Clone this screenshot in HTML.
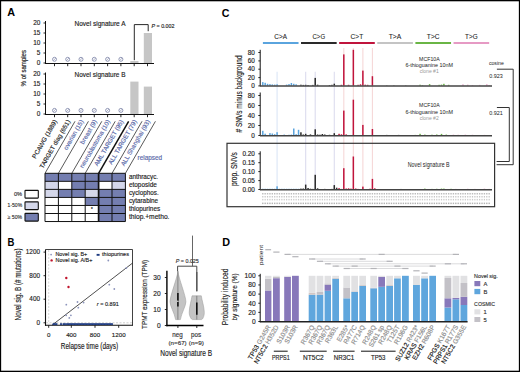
<!DOCTYPE html>
<html><head><meta charset="utf-8"><style>
html,body{margin:0;padding:0;background:#fff;}
svg{display:block;}
text{font-family:"Liberation Sans", sans-serif;}
</style></head><body>
<svg width="520" height="372" viewBox="0 0 520 372">
<rect x="0" y="0" width="520" height="372" fill="#000"/>
<rect x="1.15" y="1.3" width="517.7" height="369.4" fill="#fff"/>
<text x="7.2" y="16.2" font-size="10.8" fill="#000" text-anchor="start" font-weight="bold">A</text>
<line x1="45.5" y1="21" x2="45.5" y2="63.5" stroke="#111" stroke-width="1" />
<line x1="45" y1="63.5" x2="154" y2="63.5" stroke="#111" stroke-width="1" />
<line x1="43.5" y1="63.0" x2="45.5" y2="63.0" stroke="#111" stroke-width="0.9" />
<text x="40.3" y="65.2" font-size="6.4" fill="#222" text-anchor="end" stroke="#222" stroke-width="0.15">0</text>
<line x1="43.5" y1="53.0" x2="45.5" y2="53.0" stroke="#111" stroke-width="0.9" />
<text x="40.3" y="55.2" font-size="6.4" fill="#222" text-anchor="end" stroke="#222" stroke-width="0.15">5</text>
<line x1="43.5" y1="43.0" x2="45.5" y2="43.0" stroke="#111" stroke-width="0.9" />
<text x="40.3" y="45.2" font-size="6.4" fill="#222" text-anchor="end" stroke="#222" stroke-width="0.15">10</text>
<line x1="43.5" y1="33.0" x2="45.5" y2="33.0" stroke="#111" stroke-width="0.9" />
<text x="40.3" y="35.2" font-size="6.4" fill="#222" text-anchor="end" stroke="#222" stroke-width="0.15">15</text>
<line x1="43.5" y1="23.0" x2="45.5" y2="23.0" stroke="#111" stroke-width="0.9" />
<text x="40.3" y="25.2" font-size="6.4" fill="#222" text-anchor="end" stroke="#222" stroke-width="0.15">20</text>
<line x1="54.5" y1="63.5" x2="54.5" y2="66.2" stroke="#111" stroke-width="0.9" />
<line x1="67.7" y1="63.5" x2="67.7" y2="66.2" stroke="#111" stroke-width="0.9" />
<line x1="81.0" y1="63.5" x2="81.0" y2="66.2" stroke="#111" stroke-width="0.9" />
<line x1="94.3" y1="63.5" x2="94.3" y2="66.2" stroke="#111" stroke-width="0.9" />
<line x1="107.6" y1="63.5" x2="107.6" y2="66.2" stroke="#111" stroke-width="0.9" />
<line x1="120.9" y1="63.5" x2="120.9" y2="66.2" stroke="#111" stroke-width="0.9" />
<line x1="134.2" y1="63.5" x2="134.2" y2="66.2" stroke="#111" stroke-width="0.9" />
<line x1="147.5" y1="63.5" x2="147.5" y2="66.2" stroke="#111" stroke-width="0.9" />
<circle cx="54.5" cy="59.3" r="2.0" fill="none" stroke="#7880a4" stroke-width="0.8"/>
<line x1="53.3" y1="60.5" x2="55.7" y2="58.099999999999994" stroke="#7880a4" stroke-width="0.6" />
<circle cx="67.7" cy="59.3" r="2.0" fill="none" stroke="#7880a4" stroke-width="0.8"/>
<line x1="66.5" y1="60.5" x2="68.9" y2="58.099999999999994" stroke="#7880a4" stroke-width="0.6" />
<circle cx="81.0" cy="59.3" r="2.0" fill="none" stroke="#7880a4" stroke-width="0.8"/>
<line x1="79.8" y1="60.5" x2="82.2" y2="58.099999999999994" stroke="#7880a4" stroke-width="0.6" />
<circle cx="94.3" cy="59.3" r="2.0" fill="none" stroke="#7880a4" stroke-width="0.8"/>
<line x1="93.1" y1="60.5" x2="95.5" y2="58.099999999999994" stroke="#7880a4" stroke-width="0.6" />
<circle cx="107.6" cy="59.3" r="2.0" fill="none" stroke="#7880a4" stroke-width="0.8"/>
<line x1="106.39999999999999" y1="60.5" x2="108.8" y2="58.099999999999994" stroke="#7880a4" stroke-width="0.6" />
<circle cx="120.9" cy="59.3" r="2.0" fill="none" stroke="#7880a4" stroke-width="0.8"/>
<line x1="119.7" y1="60.5" x2="122.10000000000001" y2="58.099999999999994" stroke="#7880a4" stroke-width="0.6" />
<rect x="130.30" y="61.00" width="8.20" height="2.00" fill="#c6c6c6" />
<rect x="143.80" y="33.00" width="8.20" height="30.00" fill="#c6c6c6" />
<text x="100" y="25.6" font-size="6.9" fill="#222" text-anchor="middle" textLength="51" lengthAdjust="spacingAndGlyphs" stroke="#222" stroke-width="0.15">Novel signature A</text>
<line x1="45.5" y1="72.5" x2="45.5" y2="114.5" stroke="#111" stroke-width="1" />
<line x1="45" y1="114.5" x2="154" y2="114.5" stroke="#111" stroke-width="1" />
<line x1="43.5" y1="114.0" x2="45.5" y2="114.0" stroke="#111" stroke-width="0.9" />
<text x="40.3" y="116.2" font-size="6.4" fill="#222" text-anchor="end" stroke="#222" stroke-width="0.15">0</text>
<line x1="43.5" y1="104.0" x2="45.5" y2="104.0" stroke="#111" stroke-width="0.9" />
<text x="40.3" y="106.2" font-size="6.4" fill="#222" text-anchor="end" stroke="#222" stroke-width="0.15">5</text>
<line x1="43.5" y1="94.0" x2="45.5" y2="94.0" stroke="#111" stroke-width="0.9" />
<text x="40.3" y="96.2" font-size="6.4" fill="#222" text-anchor="end" stroke="#222" stroke-width="0.15">10</text>
<line x1="43.5" y1="84.0" x2="45.5" y2="84.0" stroke="#111" stroke-width="0.9" />
<text x="40.3" y="86.2" font-size="6.4" fill="#222" text-anchor="end" stroke="#222" stroke-width="0.15">15</text>
<line x1="43.5" y1="74.0" x2="45.5" y2="74.0" stroke="#111" stroke-width="0.9" />
<text x="40.3" y="76.2" font-size="6.4" fill="#222" text-anchor="end" stroke="#222" stroke-width="0.15">20</text>
<line x1="54.5" y1="114.5" x2="54.5" y2="117.2" stroke="#111" stroke-width="0.9" />
<line x1="67.7" y1="114.5" x2="67.7" y2="117.2" stroke="#111" stroke-width="0.9" />
<line x1="81.0" y1="114.5" x2="81.0" y2="117.2" stroke="#111" stroke-width="0.9" />
<line x1="94.3" y1="114.5" x2="94.3" y2="117.2" stroke="#111" stroke-width="0.9" />
<line x1="107.6" y1="114.5" x2="107.6" y2="117.2" stroke="#111" stroke-width="0.9" />
<line x1="120.9" y1="114.5" x2="120.9" y2="117.2" stroke="#111" stroke-width="0.9" />
<line x1="134.2" y1="114.5" x2="134.2" y2="117.2" stroke="#111" stroke-width="0.9" />
<line x1="147.5" y1="114.5" x2="147.5" y2="117.2" stroke="#111" stroke-width="0.9" />
<circle cx="54.5" cy="110.4" r="2.0" fill="none" stroke="#7880a4" stroke-width="0.8"/>
<line x1="53.3" y1="111.60000000000001" x2="55.7" y2="109.2" stroke="#7880a4" stroke-width="0.6" />
<circle cx="67.7" cy="110.4" r="2.0" fill="none" stroke="#7880a4" stroke-width="0.8"/>
<line x1="66.5" y1="111.60000000000001" x2="68.9" y2="109.2" stroke="#7880a4" stroke-width="0.6" />
<circle cx="81.0" cy="110.4" r="2.0" fill="none" stroke="#7880a4" stroke-width="0.8"/>
<line x1="79.8" y1="111.60000000000001" x2="82.2" y2="109.2" stroke="#7880a4" stroke-width="0.6" />
<circle cx="94.3" cy="110.4" r="2.0" fill="none" stroke="#7880a4" stroke-width="0.8"/>
<line x1="93.1" y1="111.60000000000001" x2="95.5" y2="109.2" stroke="#7880a4" stroke-width="0.6" />
<circle cx="107.6" cy="110.4" r="2.0" fill="none" stroke="#7880a4" stroke-width="0.8"/>
<line x1="106.39999999999999" y1="111.60000000000001" x2="108.8" y2="109.2" stroke="#7880a4" stroke-width="0.6" />
<circle cx="120.9" cy="110.4" r="2.0" fill="none" stroke="#7880a4" stroke-width="0.8"/>
<line x1="119.7" y1="111.60000000000001" x2="122.10000000000001" y2="109.2" stroke="#7880a4" stroke-width="0.6" />
<rect x="130.30" y="81.60" width="8.20" height="32.40" fill="#c6c6c6" />
<rect x="143.80" y="86.60" width="8.20" height="27.40" fill="#c6c6c6" />
<text x="100" y="77.1" font-size="6.9" fill="#222" text-anchor="middle" textLength="51" lengthAdjust="spacingAndGlyphs" stroke="#222" stroke-width="0.15">Novel signature B</text>
<polyline points="134.3,60.2 134.3,24.6 148.2,24.6 148.2,31.2" fill="none" stroke="#111" stroke-width="0.9"/>
<text x="151.5" y="28.2" font-size="5.2" fill="#222" text-anchor="start" textLength="23" lengthAdjust="spacingAndGlyphs" stroke="#222" stroke-width="0.15"><tspan font-style="italic">P</tspan> = 0.002</text>
<text transform="translate(25.9,68.2) rotate(-90)" font-size="7.2" fill="#222" text-anchor="middle" textLength="36.5" lengthAdjust="spacingAndGlyphs" stroke="#222" stroke-width="0.15">% of samples</text>
<text transform="translate(57.3,121.3) rotate(-60)" font-size="6.3" fill="#222" text-anchor="end" stroke="#222" stroke-width="0.15">PCAWG (1889)</text>
<text transform="translate(70.5,121.3) rotate(-60)" font-size="6.3" fill="#222" text-anchor="end" stroke="#222" stroke-width="0.15">TARGET diag (651)</text>
<text transform="translate(83.8,121.3) rotate(-60)" font-size="6.3" fill="#5868a8" text-anchor="end" stroke="#5868a8" stroke-width="0.15">ovarian (15)</text>
<text transform="translate(97.1,121.3) rotate(-60)" font-size="6.3" fill="#5868a8" text-anchor="end" stroke="#5868a8" stroke-width="0.15">breast (9)</text>
<text transform="translate(110.39999999999999,121.3) rotate(-60)" font-size="6.3" fill="#5868a8" text-anchor="end" stroke="#5868a8" stroke-width="0.15">neuroblastoma (10)</text>
<text transform="translate(123.7,121.3) rotate(-60)" font-size="6.3" fill="#5868a8" text-anchor="end" stroke="#5868a8" stroke-width="0.15">AML TARGET (95)</text>
<text transform="translate(137.0,121.3) rotate(-60)" font-size="6.3" fill="#5868a8" text-anchor="end" stroke="#5868a8" stroke-width="0.15">ALL TARGET (79)</text>
<text transform="translate(150.3,121.3) rotate(-60)" font-size="6.3" fill="#5868a8" text-anchor="end" stroke="#5868a8" stroke-width="0.15">ALL Shanghai (93)</text>
<text x="137.6" y="160.3" font-size="6.6" fill="#5868a8" text-anchor="start" textLength="24.6" lengthAdjust="spacingAndGlyphs" stroke="#5868a8" stroke-width="0.15">relapsed</text>
<rect x="45.00" y="173.30" width="13.40" height="8.04" fill="#747eb0" />
<rect x="58.40" y="173.30" width="13.40" height="8.04" fill="#747eb0" />
<rect x="71.80" y="173.30" width="13.40" height="8.04" fill="#747eb0" />
<rect x="85.20" y="173.30" width="13.40" height="8.04" fill="#747eb0" />
<rect x="98.60" y="173.30" width="13.40" height="8.04" fill="#747eb0" />
<rect x="112.00" y="173.30" width="13.40" height="8.04" fill="#747eb0" />
<rect x="45.00" y="181.34" width="13.40" height="8.04" fill="#d4d7ea" />
<rect x="58.40" y="181.34" width="13.40" height="8.04" fill="#ffffff" />
<rect x="71.80" y="181.34" width="13.40" height="8.04" fill="#747eb0" />
<rect x="85.20" y="181.34" width="13.40" height="8.04" fill="#747eb0" />
<rect x="98.60" y="181.34" width="13.40" height="8.04" fill="#ffffff" />
<rect x="112.00" y="181.34" width="13.40" height="8.04" fill="#d4d7ea" />
<rect x="45.00" y="189.38" width="13.40" height="8.04" fill="#d4d7ea" />
<rect x="58.40" y="189.38" width="13.40" height="8.04" fill="#747eb0" />
<rect x="71.80" y="189.38" width="13.40" height="8.04" fill="#747eb0" />
<rect x="85.20" y="189.38" width="13.40" height="8.04" fill="#d4d7ea" />
<rect x="98.60" y="189.38" width="13.40" height="8.04" fill="#747eb0" />
<rect x="112.00" y="189.38" width="13.40" height="8.04" fill="#747eb0" />
<rect x="45.00" y="197.42" width="13.40" height="8.04" fill="#ffffff" />
<rect x="58.40" y="197.42" width="13.40" height="8.04" fill="#ffffff" />
<rect x="71.80" y="197.42" width="13.40" height="8.04" fill="#ffffff" />
<rect x="85.20" y="197.42" width="13.40" height="8.04" fill="#747eb0" />
<rect x="98.60" y="197.42" width="13.40" height="8.04" fill="#747eb0" />
<rect x="112.00" y="197.42" width="13.40" height="8.04" fill="#747eb0" />
<rect x="45.00" y="205.46" width="13.40" height="8.04" fill="#ffffff" />
<rect x="58.40" y="205.46" width="13.40" height="8.04" fill="#ffffff" />
<rect x="71.80" y="205.46" width="13.40" height="8.04" fill="#ffffff" />
<rect x="85.20" y="205.46" width="13.40" height="8.04" fill="#ffffff" />
<rect x="98.60" y="205.46" width="13.40" height="8.04" fill="#747eb0" />
<rect x="112.00" y="205.46" width="13.40" height="8.04" fill="#747eb0" />
<rect x="45.00" y="213.50" width="13.40" height="8.04" fill="#ffffff" />
<rect x="58.40" y="213.50" width="13.40" height="8.04" fill="#ffffff" />
<rect x="71.80" y="213.50" width="13.40" height="8.04" fill="#ffffff" />
<rect x="85.20" y="213.50" width="13.40" height="8.04" fill="#ffffff" />
<rect x="98.60" y="213.50" width="13.40" height="8.04" fill="#747eb0" />
<rect x="112.00" y="213.50" width="13.40" height="8.04" fill="#747eb0" />
<line x1="45" y1="173.3" x2="45" y2="221.54000000000002" stroke="#111" stroke-width="1.0" />
<line x1="58.4" y1="173.3" x2="58.4" y2="221.54000000000002" stroke="#111" stroke-width="1.0" />
<line x1="71.8" y1="173.3" x2="71.8" y2="221.54000000000002" stroke="#111" stroke-width="1.0" />
<line x1="85.2" y1="173.3" x2="85.2" y2="221.54000000000002" stroke="#111" stroke-width="1.0" />
<line x1="98.6" y1="173.3" x2="98.6" y2="221.54000000000002" stroke="#111" stroke-width="1.7" />
<line x1="112" y1="173.3" x2="112" y2="221.54000000000002" stroke="#111" stroke-width="1.0" />
<line x1="125.4" y1="173.3" x2="125.4" y2="221.54000000000002" stroke="#111" stroke-width="1.0" />
<line x1="45" y1="173.3" x2="125.4" y2="173.3" stroke="#111" stroke-width="1.0" />
<line x1="45" y1="181.34" x2="125.4" y2="181.34" stroke="#111" stroke-width="1.0" />
<line x1="45" y1="189.38" x2="125.4" y2="189.38" stroke="#111" stroke-width="1.0" />
<line x1="45" y1="197.42000000000002" x2="125.4" y2="197.42000000000002" stroke="#111" stroke-width="1.0" />
<line x1="45" y1="205.46" x2="125.4" y2="205.46" stroke="#111" stroke-width="1.0" />
<line x1="45" y1="213.5" x2="125.4" y2="213.5" stroke="#111" stroke-width="1.0" />
<line x1="45" y1="221.54000000000002" x2="125.4" y2="221.54000000000002" stroke="#111" stroke-width="1.0" />
<line x1="45" y1="173.3" x2="75.02221399786055" y2="121.30000000000001" stroke="#111" stroke-width="0.7" />
<line x1="58.4" y1="173.3" x2="88.42221399786055" y2="121.30000000000001" stroke="#111" stroke-width="0.7" />
<line x1="71.8" y1="173.3" x2="101.82221399786054" y2="121.30000000000001" stroke="#111" stroke-width="0.7" />
<line x1="85.2" y1="173.3" x2="115.22221399786055" y2="121.30000000000001" stroke="#111" stroke-width="0.7" />
<line x1="98.6" y1="173.3" x2="128.62221399786054" y2="121.30000000000001" stroke="#111" stroke-width="1.5" />
<line x1="112" y1="173.3" x2="142.02221399786055" y2="121.30000000000001" stroke="#111" stroke-width="0.7" />
<line x1="125.4" y1="173.3" x2="155.42221399786055" y2="121.30000000000001" stroke="#111" stroke-width="0.7" />
<text x="91.9" y="210.5" font-size="4.5" fill="#111" text-anchor="middle" stroke="#111" stroke-width="0.15">*</text>
<text x="128.9" y="179.0" font-size="6.8" fill="#222" text-anchor="start" textLength="29.2" lengthAdjust="spacingAndGlyphs" stroke="#222" stroke-width="0.15">anthracyc.</text>
<text x="128.9" y="187.04" font-size="6.8" fill="#222" text-anchor="start" textLength="28" lengthAdjust="spacingAndGlyphs" stroke="#222" stroke-width="0.15">etoposide</text>
<text x="128.9" y="195.07999999999998" font-size="6.8" fill="#222" text-anchor="start" textLength="29.8" lengthAdjust="spacingAndGlyphs" stroke="#222" stroke-width="0.15">cyclophos.</text>
<text x="128.9" y="203.12" font-size="6.8" fill="#222" text-anchor="start" textLength="29.2" lengthAdjust="spacingAndGlyphs" stroke="#222" stroke-width="0.15">cytarabine</text>
<text x="128.9" y="211.16" font-size="6.8" fill="#222" text-anchor="start" textLength="31.3" lengthAdjust="spacingAndGlyphs" stroke="#222" stroke-width="0.15">thiopurines</text>
<text x="128.9" y="219.2" font-size="6.8" fill="#222" text-anchor="start" textLength="40.6" lengthAdjust="spacingAndGlyphs" stroke="#222" stroke-width="0.15">thiop.+metho.</text>
<rect x="25.0" y="190.4" width="13.3" height="7.7" rx="0.5" fill="#ffffff" stroke="#111" stroke-width="1.1"/>
<text x="22.1" y="195.9" font-size="5.6" fill="#333" text-anchor="end" textLength="8.2" lengthAdjust="spacingAndGlyphs" stroke="#333" stroke-width="0.15">0%</text>
<rect x="25.0" y="201.9" width="13.3" height="7.7" rx="0.5" fill="#d4d7ea" stroke="#111" stroke-width="1.1"/>
<text x="22.1" y="207.4" font-size="5.6" fill="#333" text-anchor="end" textLength="14.5" lengthAdjust="spacingAndGlyphs" stroke="#333" stroke-width="0.15">1-50%</text>
<rect x="25.0" y="213.4" width="13.3" height="7.7" rx="0.5" fill="#747eb0" stroke="#111" stroke-width="1.1"/>
<text x="22.1" y="218.9" font-size="5.6" fill="#333" text-anchor="end" textLength="14.5" lengthAdjust="spacingAndGlyphs" stroke="#333" stroke-width="0.15">≥ 50%</text>
<text x="7.6" y="245.8" font-size="10.8" fill="#000" text-anchor="start" font-weight="bold" textLength="6.9" lengthAdjust="spacingAndGlyphs">B</text>
<line x1="45.5" y1="249.5" x2="132.5" y2="249.5" stroke="#111" stroke-width="0.8" />
<line x1="132.5" y1="249.5" x2="132.5" y2="325.3" stroke="#111" stroke-width="0.8" />
<line x1="45.5" y1="249.5" x2="45.5" y2="325.8" stroke="#111" stroke-width="1.1" />
<line x1="45" y1="325.3" x2="133" y2="325.3" stroke="#111" stroke-width="1.1" />
<line x1="48.7" y1="250" x2="48.7" y2="325" stroke="#c4c4c4" stroke-width="0.7" stroke-dasharray="2,1.5"/>
<line x1="46" y1="322.8" x2="132" y2="322.8" stroke="#bbb" stroke-width="0.7" stroke-dasharray="2,1.5"/>
<line x1="43.5" y1="322.8" x2="45.5" y2="322.8" stroke="#111" stroke-width="0.9" />
<text x="40.0" y="325.0" font-size="6.4" fill="#222" text-anchor="end" stroke="#222" stroke-width="0.15">0</text>
<line x1="43.5" y1="299.2" x2="45.5" y2="299.2" stroke="#111" stroke-width="0.9" />
<text x="40.0" y="301.4" font-size="6.4" fill="#222" text-anchor="end" stroke="#222" stroke-width="0.15">400</text>
<line x1="43.5" y1="275.7" x2="45.5" y2="275.7" stroke="#111" stroke-width="0.9" />
<text x="40.0" y="277.9" font-size="6.4" fill="#222" text-anchor="end" stroke="#222" stroke-width="0.15">800</text>
<line x1="43.5" y1="252.1" x2="45.5" y2="252.1" stroke="#111" stroke-width="0.9" />
<text x="40.0" y="254.29999999999998" font-size="6.4" fill="#222" text-anchor="end" stroke="#222" stroke-width="0.15">1200</text>
<line x1="48.7" y1="325.3" x2="48.7" y2="327.8" stroke="#111" stroke-width="0.9" />
<text x="48.7" y="337.2" font-size="6.2" fill="#222" text-anchor="middle" stroke="#222" stroke-width="0.15">0</text>
<line x1="71.3" y1="325.3" x2="71.3" y2="327.8" stroke="#111" stroke-width="0.9" />
<text x="71.3" y="337.2" font-size="6.2" fill="#222" text-anchor="middle" stroke="#222" stroke-width="0.15">400</text>
<line x1="95" y1="325.3" x2="95" y2="327.8" stroke="#111" stroke-width="0.9" />
<text x="95" y="337.2" font-size="6.2" fill="#222" text-anchor="middle" stroke="#222" stroke-width="0.15">800</text>
<line x1="118.7" y1="325.3" x2="118.7" y2="327.8" stroke="#111" stroke-width="0.9" />
<text x="118.7" y="337.2" font-size="6.2" fill="#222" text-anchor="middle" stroke="#222" stroke-width="0.15">1200</text>
<text x="89.5" y="348.5" font-size="8.6" fill="#222" text-anchor="middle" textLength="57.4" lengthAdjust="spacingAndGlyphs" stroke="#222" stroke-width="0.15">Relapse time (days)</text>
<text transform="translate(20.6,284.4) rotate(-90)" font-size="9.0" fill="#222" text-anchor="middle" textLength="72" lengthAdjust="spacingAndGlyphs" stroke="#222" stroke-width="0.15">Novel sig. B (# mutations)</text>
<line x1="52.0" y1="325.2" x2="132.5" y2="263.1" stroke="#222" stroke-width="0.8" />
<rect x="52.60" y="323.20" width="1.80" height="1.80" fill="#1d3a80" />
<rect x="54.10" y="323.20" width="1.80" height="1.80" fill="#1d3a80" />
<rect x="55.60" y="323.20" width="1.80" height="1.80" fill="#1d3a80" />
<rect x="60.10" y="323.20" width="1.80" height="1.80" fill="#1d3a80" />
<rect x="62.60" y="323.20" width="1.80" height="1.80" fill="#1d3a80" />
<rect x="64.10" y="323.20" width="1.80" height="1.80" fill="#1d3a80" />
<rect x="66.10" y="323.20" width="1.80" height="1.80" fill="#1d3a80" />
<rect x="67.60" y="323.20" width="1.80" height="1.80" fill="#1d3a80" />
<rect x="69.10" y="323.20" width="1.80" height="1.80" fill="#1d3a80" />
<rect x="70.60" y="323.20" width="1.80" height="1.80" fill="#1d3a80" />
<rect x="72.10" y="323.20" width="1.80" height="1.80" fill="#1d3a80" />
<rect x="73.60" y="323.20" width="1.80" height="1.80" fill="#1d3a80" />
<rect x="75.10" y="323.20" width="1.80" height="1.80" fill="#1d3a80" />
<rect x="76.60" y="323.20" width="1.80" height="1.80" fill="#1d3a80" />
<rect x="78.10" y="323.20" width="1.80" height="1.80" fill="#1d3a80" />
<rect x="79.60" y="323.20" width="1.80" height="1.80" fill="#1d3a80" />
<rect x="81.10" y="323.20" width="1.80" height="1.80" fill="#1d3a80" />
<rect x="82.60" y="323.20" width="1.80" height="1.80" fill="#1d3a80" />
<rect x="84.10" y="323.20" width="1.80" height="1.80" fill="#1d3a80" />
<rect x="85.60" y="323.20" width="1.80" height="1.80" fill="#1d3a80" />
<rect x="87.10" y="323.20" width="1.80" height="1.80" fill="#1d3a80" />
<rect x="88.60" y="323.20" width="1.80" height="1.80" fill="#1d3a80" />
<rect x="90.10" y="323.20" width="1.80" height="1.80" fill="#1d3a80" />
<rect x="91.60" y="323.20" width="1.80" height="1.80" fill="#1d3a80" />
<rect x="93.10" y="323.20" width="1.80" height="1.80" fill="#1d3a80" />
<rect x="94.60" y="323.20" width="1.80" height="1.80" fill="#1d3a80" />
<rect x="96.10" y="323.20" width="1.80" height="1.80" fill="#1d3a80" />
<rect x="97.60" y="323.20" width="1.80" height="1.80" fill="#1d3a80" />
<rect x="99.10" y="323.20" width="1.80" height="1.80" fill="#1d3a80" />
<rect x="100.60" y="323.20" width="1.80" height="1.80" fill="#1d3a80" />
<rect x="102.10" y="323.20" width="1.80" height="1.80" fill="#1d3a80" />
<rect x="103.60" y="323.20" width="1.80" height="1.80" fill="#1d3a80" />
<rect x="105.10" y="323.20" width="1.80" height="1.80" fill="#1d3a80" />
<rect x="106.60" y="323.20" width="1.80" height="1.80" fill="#1d3a80" />
<rect x="108.10" y="323.20" width="1.80" height="1.80" fill="#1d3a80" />
<rect x="109.60" y="323.20" width="1.80" height="1.80" fill="#1d3a80" />
<rect x="111.10" y="323.20" width="1.80" height="1.80" fill="#1d3a80" />
<circle cx="66.3" cy="304.7" r="0.9" fill="#8c94bc"/>
<circle cx="77.5" cy="302" r="0.9" fill="#8c94bc"/>
<circle cx="78.3" cy="307.7" r="0.9" fill="#8c94bc"/>
<circle cx="83.6" cy="302.6" r="0.9" fill="#8c94bc"/>
<circle cx="109.3" cy="284.7" r="0.9" fill="#8c94bc"/>
<circle cx="114.3" cy="289" r="0.9" fill="#8c94bc"/>
<circle cx="126.3" cy="268" r="0.9" fill="#8c94bc"/>
<circle cx="108.3" cy="260.5" r="0.9" fill="#8c94bc"/>
<circle cx="66.2" cy="315.3" r="0.9" fill="#8c94bc"/>
<circle cx="70.9" cy="315.3" r="0.9" fill="#8c94bc"/>
<circle cx="69.3" cy="317.9" r="0.9" fill="#8c94bc"/>
<circle cx="66.3" cy="278" r="1.2" fill="#c0142c"/>
<circle cx="68.5" cy="287" r="1.2" fill="#c0142c"/>
<circle cx="51.1" cy="254.6" r="0.9" fill="#8c94bc"/>
<text x="55.5" y="256.4" font-size="6.0" fill="#222" text-anchor="start" textLength="31.7" lengthAdjust="spacingAndGlyphs" stroke="#222" stroke-width="0.15">Novel sig. B+</text>
<circle cx="51.6" cy="260.4" r="1.2" fill="#c0142c"/>
<text x="55.5" y="261.9" font-size="6.0" fill="#222" text-anchor="start" textLength="36.9" lengthAdjust="spacingAndGlyphs" stroke="#222" stroke-width="0.15">Novel sig. A/B+</text>
<rect x="96.60" y="253.90" width="3.00" height="1.90" fill="#1d3a80" />
<text x="102.1" y="256.4" font-size="6.0" fill="#222" text-anchor="start" textLength="26.8" lengthAdjust="spacingAndGlyphs" stroke="#222" stroke-width="0.15">thiopurines</text>
<text x="107.8" y="305.9" font-size="6.2" fill="#222" text-anchor="middle" textLength="22" lengthAdjust="spacingAndGlyphs" stroke="#222" stroke-width="0.15"><tspan font-style="italic">r</tspan> = 0.891</text>
<line x1="166.9" y1="270.8" x2="166.9" y2="326.3" stroke="#000" stroke-width="1.4" />
<line x1="166.3" y1="325.6" x2="203.5" y2="325.6" stroke="#000" stroke-width="1.5" />
<line x1="164.8" y1="325.5" x2="167" y2="325.5" stroke="#111" stroke-width="0.9" />
<text x="160.6" y="327.8" font-size="6.6" fill="#222" text-anchor="end" stroke="#222" stroke-width="0.15">0</text>
<line x1="164.8" y1="309.5" x2="167" y2="309.5" stroke="#111" stroke-width="0.9" />
<text x="160.6" y="311.8" font-size="6.6" fill="#222" text-anchor="end" stroke="#222" stroke-width="0.15">10</text>
<line x1="164.8" y1="293.5" x2="167" y2="293.5" stroke="#111" stroke-width="0.9" />
<text x="160.6" y="295.8" font-size="6.6" fill="#222" text-anchor="end" stroke="#222" stroke-width="0.15">20</text>
<line x1="164.8" y1="277.5" x2="167" y2="277.5" stroke="#111" stroke-width="0.9" />
<text x="160.6" y="279.8" font-size="6.6" fill="#222" text-anchor="end" stroke="#222" stroke-width="0.15">30</text>
<line x1="177.9" y1="325.5" x2="177.9" y2="328" stroke="#111" stroke-width="0.9" />
<line x1="196.8" y1="325.5" x2="196.8" y2="328" stroke="#111" stroke-width="0.9" />
<text transform="translate(147.1,294.4) rotate(-90)" font-size="7.8" fill="#222" text-anchor="middle" textLength="69" lengthAdjust="spacingAndGlyphs" stroke="#222" stroke-width="0.15">TPMT expression (TPM)</text>
<path d="M177.9,271.3 C178.6,278 185.9,296 185.9,301.8 C185.9,306 181.5,313 180.4,319.6 L175.6,319.6 C174.5,313 170.0,306 170.0,301.8 C170.0,296 177.2,278 177.9,271.3 Z" fill="#c4c4c4" stroke="#999" stroke-width="0.5"/>
<line x1="177.9" y1="271.3" x2="177.9" y2="319.6" stroke="#555" stroke-width="0.6" />
<line x1="177.9" y1="292.9" x2="177.9" y2="306.6" stroke="#111" stroke-width="1.6" />
<circle cx="177.9" cy="301.2" r="0.75" fill="#fff"/>
<path d="M192.0,295.8 L201.3,295.8 C201.8,300 204.3,307 204.3,312.5 C204.3,316.5 202.5,319.6 201.5,319.6 L192.5,319.6 C191.5,319.6 189.2,316.5 189.2,312.5 C189.2,307 191.5,300 192.0,295.8 Z" fill="#c4c4c4" stroke="#999" stroke-width="0.5"/>
<line x1="196.8" y1="295.8" x2="196.8" y2="319.6" stroke="#555" stroke-width="0.6" />
<line x1="196.8" y1="302.6" x2="196.8" y2="314.7" stroke="#111" stroke-width="1.6" />
<polyline points="177.6,271.3 177.6,266.2 196.8,266.2 196.8,291.3" fill="none" stroke="#333" stroke-width="0.9"/>
<line x1="196.8" y1="272" x2="196.8" y2="291.3" stroke="#555" stroke-width="1.3" />
<line x1="192.5" y1="235.6" x2="192.5" y2="266.2" stroke="#555" stroke-width="0.9" />
<text x="187.3" y="263.4" font-size="5.2" fill="#333" text-anchor="middle" textLength="23" lengthAdjust="spacingAndGlyphs" stroke="#333" stroke-width="0.15"><tspan font-style="italic">P</tspan> = 0.025</text>
<text x="177.5" y="337.2" font-size="6.8" fill="#333" text-anchor="middle" textLength="10.4" lengthAdjust="spacingAndGlyphs" stroke="#333" stroke-width="0.15">neg</text>
<text x="196.1" y="337.2" font-size="6.8" fill="#333" text-anchor="middle" textLength="10.1" lengthAdjust="spacingAndGlyphs" stroke="#333" stroke-width="0.15">pos</text>
<text x="177.6" y="344.6" font-size="6.2" fill="#333" text-anchor="middle" textLength="18.1" lengthAdjust="spacingAndGlyphs" stroke="#333" stroke-width="0.15">(n=67)</text>
<text x="196.4" y="344.6" font-size="6.2" fill="#333" text-anchor="middle" textLength="15.2" lengthAdjust="spacingAndGlyphs" stroke="#333" stroke-width="0.15">(n=9)</text>
<text x="186.2" y="356.4" font-size="9.0" fill="#222" text-anchor="middle" textLength="51.9" lengthAdjust="spacingAndGlyphs" stroke="#222" stroke-width="0.15">Novel signature B</text>
<text x="221.7" y="16.6" font-size="11.8" fill="#000" text-anchor="start" font-weight="bold" textLength="7.7" lengthAdjust="spacingAndGlyphs">C</text>
<rect x="262.90" y="42.00" width="35.63" height="2.00" fill="#5aa4de" />
<text x="280.66400000000004" y="39.1" font-size="6.4" fill="#222" text-anchor="middle" textLength="12.6" lengthAdjust="spacingAndGlyphs" stroke-width="0.08" stroke="#222">C&gt;A</text>
<rect x="301.03" y="42.00" width="35.63" height="2.00" fill="#2a2a2a" />
<text x="318.79200000000003" y="39.1" font-size="6.4" fill="#222" text-anchor="middle" textLength="12.6" lengthAdjust="spacingAndGlyphs" stroke-width="0.08" stroke="#222">C&gt;G</text>
<rect x="339.16" y="42.00" width="35.63" height="2.00" fill="#c0143c" />
<text x="356.92" y="39.1" font-size="6.4" fill="#222" text-anchor="middle" textLength="12.6" lengthAdjust="spacingAndGlyphs" stroke-width="0.08" stroke="#222">C&gt;T</text>
<rect x="377.28" y="42.00" width="35.63" height="2.00" fill="#c4c4c4" />
<text x="395.04800000000006" y="39.1" font-size="6.4" fill="#222" text-anchor="middle" textLength="12.6" lengthAdjust="spacingAndGlyphs" stroke-width="0.08" stroke="#222">T&gt;A</text>
<rect x="415.41" y="42.00" width="35.63" height="2.00" fill="#6ab545" />
<text x="433.17600000000004" y="39.1" font-size="6.4" fill="#222" text-anchor="middle" textLength="12.6" lengthAdjust="spacingAndGlyphs" stroke-width="0.08" stroke="#222">T&gt;C</text>
<rect x="453.54" y="42.00" width="35.63" height="2.00" fill="#e69ac4" />
<text x="471.30400000000003" y="39.1" font-size="6.4" fill="#222" text-anchor="middle" textLength="12.6" lengthAdjust="spacingAndGlyphs" stroke-width="0.08" stroke="#222">T&gt;G</text>
<line x1="277.08950000000004" y1="71.7" x2="277.08950000000004" y2="190" stroke="#dbe6f6" stroke-width="1.1" />
<line x1="305.68550000000005" y1="71.7" x2="305.68550000000005" y2="190" stroke="#dcdcee" stroke-width="1.1" />
<line x1="315.21750000000003" y1="71.7" x2="315.21750000000003" y2="190" stroke="#dcdcee" stroke-width="1.1" />
<line x1="334.28150000000005" y1="71.7" x2="334.28150000000005" y2="190" stroke="#dcdcee" stroke-width="1.1" />
<line x1="343.81350000000003" y1="48" x2="343.81350000000003" y2="190" stroke="#f6d8d8" stroke-width="1.1" />
<line x1="353.3455" y1="48" x2="353.3455" y2="190" stroke="#f6d8d8" stroke-width="1.1" />
<line x1="362.87750000000005" y1="48" x2="362.87750000000005" y2="190" stroke="#f6d8d8" stroke-width="1.1" />
<line x1="372.40950000000004" y1="48" x2="372.40950000000004" y2="190" stroke="#f6d8d8" stroke-width="1.1" />
<line x1="260.2" y1="49.8" x2="260.2" y2="86.19999999999999" stroke="#111" stroke-width="1.0" />
<line x1="258.3" y1="52.5" x2="260.2" y2="52.5" stroke="#111" stroke-width="0.9" />
<text x="254.9" y="54.7" font-size="6.4" fill="#222" text-anchor="end" stroke="#222" stroke-width="0.15">80</text>
<line x1="258.3" y1="60.9" x2="260.2" y2="60.9" stroke="#111" stroke-width="0.9" />
<text x="254.9" y="63.1" font-size="6.4" fill="#222" text-anchor="end" stroke="#222" stroke-width="0.15">60</text>
<line x1="258.3" y1="69.2" x2="260.2" y2="69.2" stroke="#111" stroke-width="0.9" />
<text x="254.9" y="71.4" font-size="6.4" fill="#222" text-anchor="end" stroke="#222" stroke-width="0.15">40</text>
<line x1="258.3" y1="77.6" x2="260.2" y2="77.6" stroke="#111" stroke-width="0.9" />
<text x="254.9" y="79.8" font-size="6.4" fill="#222" text-anchor="end" stroke="#222" stroke-width="0.15">20</text>
<line x1="258.3" y1="85.9" x2="260.2" y2="85.9" stroke="#111" stroke-width="0.9" />
<text x="254.9" y="88.10000000000001" font-size="6.4" fill="#222" text-anchor="end" stroke="#222" stroke-width="0.15">0</text>
<rect x="262.04" y="82.10" width="1.50" height="3.50" fill="#5aa4de" />
<rect x="264.42" y="82.80" width="1.50" height="2.80" fill="#5aa4de" />
<rect x="266.81" y="83.80" width="1.50" height="1.80" fill="#5aa4de" />
<rect x="269.19" y="84.10" width="1.50" height="1.50" fill="#5aa4de" />
<rect x="271.57" y="84.40" width="1.50" height="1.20" fill="#5aa4de" />
<rect x="273.96" y="84.60" width="1.50" height="1.00" fill="#5aa4de" />
<rect x="276.34" y="84.30" width="1.50" height="1.30" fill="#5aa4de" />
<rect x="285.87" y="84.60" width="1.50" height="1.00" fill="#5aa4de" />
<rect x="288.25" y="84.10" width="1.50" height="1.50" fill="#5aa4de" />
<rect x="290.64" y="83.00" width="1.50" height="2.60" fill="#5aa4de" />
<rect x="293.02" y="83.80" width="1.50" height="1.80" fill="#5aa4de" />
<rect x="295.40" y="84.30" width="1.50" height="1.30" fill="#5aa4de" />
<rect x="300.17" y="84.70" width="1.50" height="0.90" fill="#2a2a2a" />
<rect x="302.55" y="84.90" width="1.50" height="0.70" fill="#2a2a2a" />
<rect x="304.94" y="84.80" width="1.50" height="0.80" fill="#2a2a2a" />
<rect x="307.32" y="85.00" width="1.50" height="0.60" fill="#2a2a2a" />
<rect x="312.08" y="84.90" width="1.50" height="0.70" fill="#2a2a2a" />
<rect x="314.47" y="77.90" width="1.50" height="7.70" fill="#2a2a2a" />
<rect x="316.85" y="84.70" width="1.50" height="0.90" fill="#2a2a2a" />
<rect x="328.77" y="85.00" width="1.50" height="0.60" fill="#2a2a2a" />
<rect x="331.15" y="84.80" width="1.50" height="0.80" fill="#2a2a2a" />
<rect x="333.53" y="83.70" width="1.50" height="1.90" fill="#2a2a2a" />
<rect x="340.68" y="84.80" width="1.50" height="0.80" fill="#c0143c" />
<rect x="343.06" y="54.40" width="1.50" height="31.20" fill="#c0143c" />
<rect x="347.83" y="84.80" width="1.50" height="0.80" fill="#c0143c" />
<rect x="352.60" y="49.80" width="1.50" height="35.80" fill="#c0143c" />
<rect x="357.36" y="84.80" width="1.50" height="0.80" fill="#c0143c" />
<rect x="359.74" y="84.30" width="1.50" height="1.30" fill="#c0143c" />
<rect x="362.13" y="70.60" width="1.50" height="15.00" fill="#c0143c" />
<rect x="364.51" y="84.70" width="1.50" height="0.90" fill="#c0143c" />
<rect x="366.89" y="84.80" width="1.50" height="0.80" fill="#c0143c" />
<rect x="371.66" y="76.20" width="1.50" height="9.40" fill="#c0143c" />
<rect x="385.96" y="85.10" width="1.50" height="0.50" fill="#9a9a9a" />
<rect x="393.11" y="85.00" width="1.50" height="0.60" fill="#9a9a9a" />
<rect x="405.02" y="85.10" width="1.50" height="0.50" fill="#9a9a9a" />
<rect x="419.32" y="84.70" width="1.50" height="0.90" fill="#6ab545" />
<rect x="421.70" y="85.10" width="1.50" height="0.50" fill="#6ab545" />
<rect x="428.85" y="84.10" width="1.50" height="1.50" fill="#6ab545" />
<rect x="438.38" y="84.80" width="1.50" height="0.80" fill="#6ab545" />
<rect x="440.77" y="84.60" width="1.50" height="1.00" fill="#6ab545" />
<rect x="443.15" y="83.80" width="1.50" height="1.80" fill="#6ab545" />
<rect x="447.92" y="84.80" width="1.50" height="0.80" fill="#6ab545" />
<rect x="462.21" y="84.40" width="1.50" height="1.20" fill="#e69ac4" />
<rect x="466.98" y="84.70" width="1.50" height="0.90" fill="#e69ac4" />
<rect x="471.75" y="85.00" width="1.50" height="0.60" fill="#e69ac4" />
<rect x="478.89" y="84.90" width="1.50" height="0.70" fill="#e69ac4" />
<rect x="486.04" y="84.30" width="1.50" height="1.30" fill="#e69ac4" />
<rect x="488.43" y="85.00" width="1.50" height="0.60" fill="#e69ac4" />
<line x1="260" y1="85.89999999999999" x2="492" y2="85.89999999999999" stroke="#444" stroke-width="1.45" />
<line x1="260.2" y1="92.5" x2="260.2" y2="136.0" stroke="#111" stroke-width="1.0" />
<line x1="258.3" y1="95.5" x2="260.2" y2="95.5" stroke="#111" stroke-width="0.9" />
<text x="254.9" y="97.7" font-size="6.4" fill="#222" text-anchor="end" stroke="#222" stroke-width="0.15">80</text>
<line x1="258.3" y1="105.5" x2="260.2" y2="105.5" stroke="#111" stroke-width="0.9" />
<text x="254.9" y="107.7" font-size="6.4" fill="#222" text-anchor="end" stroke="#222" stroke-width="0.15">60</text>
<line x1="258.3" y1="115.5" x2="260.2" y2="115.5" stroke="#111" stroke-width="0.9" />
<text x="254.9" y="117.7" font-size="6.4" fill="#222" text-anchor="end" stroke="#222" stroke-width="0.15">40</text>
<line x1="258.3" y1="125.5" x2="260.2" y2="125.5" stroke="#111" stroke-width="0.9" />
<text x="254.9" y="127.7" font-size="6.4" fill="#222" text-anchor="end" stroke="#222" stroke-width="0.15">20</text>
<line x1="258.3" y1="135.5" x2="260.2" y2="135.5" stroke="#111" stroke-width="0.9" />
<text x="254.9" y="137.7" font-size="6.4" fill="#222" text-anchor="end" stroke="#222" stroke-width="0.15">0</text>
<rect x="262.04" y="130.80" width="1.50" height="4.60" fill="#5aa4de" />
<rect x="264.42" y="133.70" width="1.50" height="1.70" fill="#5aa4de" />
<rect x="269.19" y="133.10" width="1.50" height="2.30" fill="#5aa4de" />
<rect x="271.57" y="133.50" width="1.50" height="1.90" fill="#5aa4de" />
<rect x="273.96" y="134.20" width="1.50" height="1.20" fill="#5aa4de" />
<rect x="276.34" y="132.20" width="1.50" height="3.20" fill="#5aa4de" />
<rect x="283.49" y="134.60" width="1.50" height="0.80" fill="#5aa4de" />
<rect x="288.25" y="134.80" width="1.50" height="0.60" fill="#5aa4de" />
<rect x="290.64" y="134.60" width="1.50" height="0.80" fill="#5aa4de" />
<rect x="293.02" y="128.50" width="1.50" height="6.90" fill="#5aa4de" />
<rect x="295.40" y="134.20" width="1.50" height="1.20" fill="#5aa4de" />
<rect x="297.79" y="129.80" width="1.50" height="5.60" fill="#5aa4de" />
<rect x="300.17" y="132.30" width="1.50" height="3.10" fill="#2a2a2a" />
<rect x="302.55" y="134.50" width="1.50" height="0.90" fill="#2a2a2a" />
<rect x="304.94" y="133.80" width="1.50" height="1.60" fill="#2a2a2a" />
<rect x="309.70" y="134.40" width="1.50" height="1.00" fill="#2a2a2a" />
<rect x="314.47" y="129.30" width="1.50" height="6.10" fill="#2a2a2a" />
<rect x="316.85" y="134.50" width="1.50" height="0.90" fill="#2a2a2a" />
<rect x="319.23" y="134.70" width="1.50" height="0.70" fill="#2a2a2a" />
<rect x="321.62" y="134.00" width="1.50" height="1.40" fill="#2a2a2a" />
<rect x="324.00" y="134.50" width="1.50" height="0.90" fill="#2a2a2a" />
<rect x="328.77" y="134.80" width="1.50" height="0.60" fill="#2a2a2a" />
<rect x="333.53" y="133.20" width="1.50" height="2.20" fill="#2a2a2a" />
<rect x="338.30" y="133.80" width="1.50" height="1.60" fill="#c0143c" />
<rect x="340.68" y="134.30" width="1.50" height="1.10" fill="#c0143c" />
<rect x="343.06" y="110.60" width="1.50" height="24.80" fill="#c0143c" />
<rect x="345.45" y="134.40" width="1.50" height="1.00" fill="#c0143c" />
<rect x="352.60" y="99.70" width="1.50" height="35.70" fill="#c0143c" />
<rect x="362.13" y="124.90" width="1.50" height="10.50" fill="#c0143c" />
<rect x="371.66" y="129.00" width="1.50" height="6.40" fill="#c0143c" />
<rect x="385.96" y="134.80" width="1.50" height="0.60" fill="#9a9a9a" />
<rect x="397.87" y="134.80" width="1.50" height="0.60" fill="#9a9a9a" />
<rect x="414.55" y="134.90" width="1.50" height="0.50" fill="#6ab545" />
<rect x="419.32" y="133.80" width="1.50" height="1.60" fill="#6ab545" />
<rect x="424.09" y="134.60" width="1.50" height="0.80" fill="#6ab545" />
<rect x="431.23" y="134.70" width="1.50" height="0.70" fill="#6ab545" />
<rect x="436.00" y="134.50" width="1.50" height="0.90" fill="#6ab545" />
<rect x="440.77" y="133.90" width="1.50" height="1.50" fill="#6ab545" />
<rect x="445.53" y="134.60" width="1.50" height="0.80" fill="#6ab545" />
<rect x="452.68" y="134.70" width="1.50" height="0.70" fill="#e69ac4" />
<rect x="457.45" y="134.80" width="1.50" height="0.60" fill="#e69ac4" />
<rect x="464.60" y="134.70" width="1.50" height="0.70" fill="#e69ac4" />
<rect x="471.75" y="134.80" width="1.50" height="0.60" fill="#e69ac4" />
<rect x="483.66" y="134.90" width="1.50" height="0.50" fill="#e69ac4" />
<line x1="260" y1="135.70000000000002" x2="492" y2="135.70000000000002" stroke="#444" stroke-width="1.45" />
<rect x="227.0" y="143.3" width="267.6" height="63.4" fill="none" stroke="#333" stroke-width="1.2"/>
<line x1="260.2" y1="151.3" x2="260.2" y2="190.1" stroke="#111" stroke-width="1.0" />
<line x1="258.3" y1="153.8" x2="260.2" y2="153.8" stroke="#111" stroke-width="0.9" />
<text x="254.9" y="156.0" font-size="6.4" fill="#222" text-anchor="end" stroke="#222" stroke-width="0.15">0.20</text>
<line x1="258.3" y1="162.7" x2="260.2" y2="162.7" stroke="#111" stroke-width="0.9" />
<text x="254.9" y="164.89999999999998" font-size="6.4" fill="#222" text-anchor="end" stroke="#222" stroke-width="0.15">0.15</text>
<line x1="258.3" y1="171.6" x2="260.2" y2="171.6" stroke="#111" stroke-width="0.9" />
<text x="254.9" y="173.79999999999998" font-size="6.4" fill="#222" text-anchor="end" stroke="#222" stroke-width="0.15">0.10</text>
<line x1="258.3" y1="180.6" x2="260.2" y2="180.6" stroke="#111" stroke-width="0.9" />
<text x="254.9" y="182.79999999999998" font-size="6.4" fill="#222" text-anchor="end" stroke="#222" stroke-width="0.15">0.05</text>
<line x1="258.3" y1="189.5" x2="260.2" y2="189.5" stroke="#111" stroke-width="0.9" />
<text x="254.9" y="191.7" font-size="6.4" fill="#222" text-anchor="end" stroke="#222" stroke-width="0.15">0.00</text>
<rect x="262.04" y="188.80" width="1.50" height="0.70" fill="#5aa4de" />
<rect x="264.42" y="188.80" width="1.50" height="0.70" fill="#5aa4de" />
<rect x="266.81" y="188.80" width="1.50" height="0.70" fill="#5aa4de" />
<rect x="269.19" y="188.80" width="1.50" height="0.70" fill="#5aa4de" />
<rect x="271.57" y="188.80" width="1.50" height="0.70" fill="#5aa4de" />
<rect x="273.96" y="188.80" width="1.50" height="0.70" fill="#5aa4de" />
<rect x="276.34" y="186.30" width="1.50" height="3.20" fill="#5aa4de" />
<rect x="278.72" y="188.80" width="1.50" height="0.70" fill="#5aa4de" />
<rect x="281.11" y="188.80" width="1.50" height="0.70" fill="#5aa4de" />
<rect x="283.49" y="188.80" width="1.50" height="0.70" fill="#5aa4de" />
<rect x="285.87" y="188.80" width="1.50" height="0.70" fill="#5aa4de" />
<rect x="288.25" y="188.80" width="1.50" height="0.70" fill="#5aa4de" />
<rect x="290.64" y="188.80" width="1.50" height="0.70" fill="#5aa4de" />
<rect x="293.02" y="188.80" width="1.50" height="0.70" fill="#5aa4de" />
<rect x="295.40" y="188.80" width="1.50" height="0.70" fill="#5aa4de" />
<rect x="297.79" y="188.80" width="1.50" height="0.70" fill="#5aa4de" />
<rect x="300.17" y="188.60" width="1.50" height="0.90" fill="#2a2a2a" />
<rect x="302.55" y="188.50" width="1.50" height="1.00" fill="#2a2a2a" />
<rect x="304.94" y="184.60" width="1.50" height="4.90" fill="#2a2a2a" />
<rect x="307.32" y="188.00" width="1.50" height="1.50" fill="#2a2a2a" />
<rect x="309.70" y="188.70" width="1.50" height="0.80" fill="#2a2a2a" />
<rect x="312.08" y="188.90" width="1.50" height="0.60" fill="#2a2a2a" />
<rect x="314.47" y="174.80" width="1.50" height="14.70" fill="#2a2a2a" />
<rect x="316.85" y="188.30" width="1.50" height="1.20" fill="#2a2a2a" />
<rect x="319.23" y="189.00" width="1.50" height="0.50" fill="#2a2a2a" />
<rect x="324.00" y="188.90" width="1.50" height="0.60" fill="#2a2a2a" />
<rect x="331.15" y="188.90" width="1.50" height="0.60" fill="#2a2a2a" />
<rect x="333.53" y="185.10" width="1.50" height="4.40" fill="#2a2a2a" />
<rect x="335.91" y="187.70" width="1.50" height="1.80" fill="#2a2a2a" />
<rect x="338.30" y="188.10" width="1.50" height="1.40" fill="#c0143c" />
<rect x="340.68" y="188.90" width="1.50" height="0.60" fill="#c0143c" />
<rect x="343.06" y="168.20" width="1.50" height="21.30" fill="#c0143c" />
<rect x="345.45" y="188.50" width="1.50" height="1.00" fill="#c0143c" />
<rect x="347.83" y="188.30" width="1.50" height="1.20" fill="#c0143c" />
<rect x="350.21" y="188.60" width="1.50" height="0.90" fill="#c0143c" />
<rect x="352.60" y="156.50" width="1.50" height="33.00" fill="#c0143c" />
<rect x="354.98" y="188.50" width="1.50" height="1.00" fill="#c0143c" />
<rect x="357.36" y="188.90" width="1.50" height="0.60" fill="#c0143c" />
<rect x="362.13" y="186.60" width="1.50" height="2.90" fill="#c0143c" />
<rect x="369.28" y="188.70" width="1.50" height="0.80" fill="#c0143c" />
<rect x="371.66" y="178.90" width="1.50" height="10.60" fill="#c0143c" />
<rect x="374.04" y="188.30" width="1.50" height="1.20" fill="#c0143c" />
<rect x="381.19" y="189.00" width="1.50" height="0.50" fill="#9a9a9a" />
<rect x="390.72" y="189.00" width="1.50" height="0.50" fill="#9a9a9a" />
<rect x="400.26" y="188.90" width="1.50" height="0.60" fill="#9a9a9a" />
<rect x="407.40" y="189.00" width="1.50" height="0.50" fill="#9a9a9a" />
<rect x="416.94" y="189.00" width="1.50" height="0.50" fill="#6ab545" />
<rect x="424.09" y="188.60" width="1.50" height="0.90" fill="#6ab545" />
<rect x="431.23" y="188.90" width="1.50" height="0.60" fill="#6ab545" />
<rect x="436.00" y="188.80" width="1.50" height="0.70" fill="#6ab545" />
<rect x="440.77" y="188.60" width="1.50" height="0.90" fill="#6ab545" />
<rect x="443.15" y="188.60" width="1.50" height="0.90" fill="#6ab545" />
<rect x="450.30" y="188.80" width="1.50" height="0.70" fill="#6ab545" />
<rect x="455.06" y="188.90" width="1.50" height="0.60" fill="#e69ac4" />
<rect x="459.83" y="189.00" width="1.50" height="0.50" fill="#e69ac4" />
<rect x="466.98" y="188.80" width="1.50" height="0.70" fill="#e69ac4" />
<rect x="474.13" y="188.90" width="1.50" height="0.60" fill="#e69ac4" />
<rect x="483.66" y="188.70" width="1.50" height="0.80" fill="#e69ac4" />
<rect x="488.43" y="188.90" width="1.50" height="0.60" fill="#e69ac4" />
<line x1="260" y1="189.8" x2="492" y2="189.8" stroke="#444" stroke-width="1.45" />
<rect x="262.09" y="193.0" width="1.4" height="1.5" fill="#bdbdbd"/>
<rect x="262.19" y="196.0" width="1.2" height="1.5" fill="#c6c6c6"/>
<rect x="262.19" y="198.9" width="1.2" height="1.5" fill="#cbcbcb"/>
<rect x="262.09" y="202.6" width="1.4" height="1.5" fill="#b4b4b4"/>
<rect x="264.47" y="193.0" width="1.4" height="1.5" fill="#bdbdbd"/>
<rect x="264.57" y="196.0" width="1.2" height="1.5" fill="#c6c6c6"/>
<rect x="264.57" y="198.9" width="1.2" height="1.5" fill="#cbcbcb"/>
<rect x="264.47" y="202.6" width="1.4" height="1.5" fill="#b4b4b4"/>
<rect x="266.86" y="193.0" width="1.4" height="1.5" fill="#bdbdbd"/>
<rect x="266.96" y="196.0" width="1.2" height="1.5" fill="#c6c6c6"/>
<rect x="266.96" y="198.9" width="1.2" height="1.5" fill="#cbcbcb"/>
<rect x="266.86" y="202.6" width="1.4" height="1.5" fill="#b4b4b4"/>
<rect x="269.24" y="193.0" width="1.4" height="1.5" fill="#bdbdbd"/>
<rect x="269.34" y="196.0" width="1.2" height="1.5" fill="#c6c6c6"/>
<rect x="269.34" y="198.9" width="1.2" height="1.5" fill="#cbcbcb"/>
<rect x="269.24" y="202.6" width="1.4" height="1.5" fill="#b4b4b4"/>
<rect x="271.62" y="193.0" width="1.4" height="1.5" fill="#bdbdbd"/>
<rect x="271.72" y="196.0" width="1.2" height="1.5" fill="#c6c6c6"/>
<rect x="271.72" y="198.9" width="1.2" height="1.5" fill="#cbcbcb"/>
<rect x="271.62" y="202.6" width="1.4" height="1.5" fill="#b4b4b4"/>
<rect x="274.01" y="193.0" width="1.4" height="1.5" fill="#bdbdbd"/>
<rect x="274.11" y="196.0" width="1.2" height="1.5" fill="#c6c6c6"/>
<rect x="274.11" y="198.9" width="1.2" height="1.5" fill="#cbcbcb"/>
<rect x="274.01" y="202.6" width="1.4" height="1.5" fill="#b4b4b4"/>
<rect x="276.39" y="193.0" width="1.4" height="1.5" fill="#bdbdbd"/>
<rect x="276.49" y="196.0" width="1.2" height="1.5" fill="#c6c6c6"/>
<rect x="276.49" y="198.9" width="1.2" height="1.5" fill="#cbcbcb"/>
<rect x="276.39" y="202.6" width="1.4" height="1.5" fill="#b4b4b4"/>
<rect x="278.77" y="193.0" width="1.4" height="1.5" fill="#bdbdbd"/>
<rect x="278.87" y="196.0" width="1.2" height="1.5" fill="#c6c6c6"/>
<rect x="278.87" y="198.9" width="1.2" height="1.5" fill="#cbcbcb"/>
<rect x="278.77" y="202.6" width="1.4" height="1.5" fill="#b4b4b4"/>
<rect x="281.16" y="193.0" width="1.4" height="1.5" fill="#bdbdbd"/>
<rect x="281.26" y="196.0" width="1.2" height="1.5" fill="#c6c6c6"/>
<rect x="281.26" y="198.9" width="1.2" height="1.5" fill="#cbcbcb"/>
<rect x="281.16" y="202.6" width="1.4" height="1.5" fill="#b4b4b4"/>
<rect x="283.54" y="193.0" width="1.4" height="1.5" fill="#bdbdbd"/>
<rect x="283.64" y="196.0" width="1.2" height="1.5" fill="#c6c6c6"/>
<rect x="283.64" y="198.9" width="1.2" height="1.5" fill="#cbcbcb"/>
<rect x="283.54" y="202.6" width="1.4" height="1.5" fill="#b4b4b4"/>
<rect x="285.92" y="193.0" width="1.4" height="1.5" fill="#bdbdbd"/>
<rect x="286.02" y="196.0" width="1.2" height="1.5" fill="#c6c6c6"/>
<rect x="286.02" y="198.9" width="1.2" height="1.5" fill="#cbcbcb"/>
<rect x="285.92" y="202.6" width="1.4" height="1.5" fill="#b4b4b4"/>
<rect x="288.30" y="193.0" width="1.4" height="1.5" fill="#bdbdbd"/>
<rect x="288.40" y="196.0" width="1.2" height="1.5" fill="#c6c6c6"/>
<rect x="288.40" y="198.9" width="1.2" height="1.5" fill="#cbcbcb"/>
<rect x="288.30" y="202.6" width="1.4" height="1.5" fill="#b4b4b4"/>
<rect x="290.69" y="193.0" width="1.4" height="1.5" fill="#bdbdbd"/>
<rect x="290.79" y="196.0" width="1.2" height="1.5" fill="#c6c6c6"/>
<rect x="290.79" y="198.9" width="1.2" height="1.5" fill="#cbcbcb"/>
<rect x="290.69" y="202.6" width="1.4" height="1.5" fill="#b4b4b4"/>
<rect x="293.07" y="193.0" width="1.4" height="1.5" fill="#bdbdbd"/>
<rect x="293.17" y="196.0" width="1.2" height="1.5" fill="#c6c6c6"/>
<rect x="293.17" y="198.9" width="1.2" height="1.5" fill="#cbcbcb"/>
<rect x="293.07" y="202.6" width="1.4" height="1.5" fill="#b4b4b4"/>
<rect x="295.45" y="193.0" width="1.4" height="1.5" fill="#bdbdbd"/>
<rect x="295.55" y="196.0" width="1.2" height="1.5" fill="#c6c6c6"/>
<rect x="295.55" y="198.9" width="1.2" height="1.5" fill="#cbcbcb"/>
<rect x="295.45" y="202.6" width="1.4" height="1.5" fill="#b4b4b4"/>
<rect x="297.84" y="193.0" width="1.4" height="1.5" fill="#bdbdbd"/>
<rect x="297.94" y="196.0" width="1.2" height="1.5" fill="#c6c6c6"/>
<rect x="297.94" y="198.9" width="1.2" height="1.5" fill="#cbcbcb"/>
<rect x="297.84" y="202.6" width="1.4" height="1.5" fill="#b4b4b4"/>
<rect x="300.22" y="193.0" width="1.4" height="1.5" fill="#bdbdbd"/>
<rect x="300.32" y="196.0" width="1.2" height="1.5" fill="#c6c6c6"/>
<rect x="300.32" y="198.9" width="1.2" height="1.5" fill="#cbcbcb"/>
<rect x="300.22" y="202.6" width="1.4" height="1.5" fill="#b4b4b4"/>
<rect x="302.60" y="193.0" width="1.4" height="1.5" fill="#bdbdbd"/>
<rect x="302.70" y="196.0" width="1.2" height="1.5" fill="#c6c6c6"/>
<rect x="302.70" y="198.9" width="1.2" height="1.5" fill="#cbcbcb"/>
<rect x="302.60" y="202.6" width="1.4" height="1.5" fill="#b4b4b4"/>
<rect x="304.99" y="193.0" width="1.4" height="1.5" fill="#bdbdbd"/>
<rect x="305.09" y="196.0" width="1.2" height="1.5" fill="#c6c6c6"/>
<rect x="305.09" y="198.9" width="1.2" height="1.5" fill="#cbcbcb"/>
<rect x="304.99" y="202.6" width="1.4" height="1.5" fill="#b4b4b4"/>
<rect x="307.37" y="193.0" width="1.4" height="1.5" fill="#bdbdbd"/>
<rect x="307.47" y="196.0" width="1.2" height="1.5" fill="#c6c6c6"/>
<rect x="307.47" y="198.9" width="1.2" height="1.5" fill="#cbcbcb"/>
<rect x="307.37" y="202.6" width="1.4" height="1.5" fill="#b4b4b4"/>
<rect x="309.75" y="193.0" width="1.4" height="1.5" fill="#bdbdbd"/>
<rect x="309.85" y="196.0" width="1.2" height="1.5" fill="#c6c6c6"/>
<rect x="309.85" y="198.9" width="1.2" height="1.5" fill="#cbcbcb"/>
<rect x="309.75" y="202.6" width="1.4" height="1.5" fill="#b4b4b4"/>
<rect x="312.13" y="193.0" width="1.4" height="1.5" fill="#bdbdbd"/>
<rect x="312.23" y="196.0" width="1.2" height="1.5" fill="#c6c6c6"/>
<rect x="312.23" y="198.9" width="1.2" height="1.5" fill="#cbcbcb"/>
<rect x="312.13" y="202.6" width="1.4" height="1.5" fill="#b4b4b4"/>
<rect x="314.52" y="193.0" width="1.4" height="1.5" fill="#bdbdbd"/>
<rect x="314.62" y="196.0" width="1.2" height="1.5" fill="#c6c6c6"/>
<rect x="314.62" y="198.9" width="1.2" height="1.5" fill="#cbcbcb"/>
<rect x="314.52" y="202.6" width="1.4" height="1.5" fill="#b4b4b4"/>
<rect x="316.90" y="193.0" width="1.4" height="1.5" fill="#bdbdbd"/>
<rect x="317.00" y="196.0" width="1.2" height="1.5" fill="#c6c6c6"/>
<rect x="317.00" y="198.9" width="1.2" height="1.5" fill="#cbcbcb"/>
<rect x="316.90" y="202.6" width="1.4" height="1.5" fill="#b4b4b4"/>
<rect x="319.28" y="193.0" width="1.4" height="1.5" fill="#bdbdbd"/>
<rect x="319.38" y="196.0" width="1.2" height="1.5" fill="#c6c6c6"/>
<rect x="319.38" y="198.9" width="1.2" height="1.5" fill="#cbcbcb"/>
<rect x="319.28" y="202.6" width="1.4" height="1.5" fill="#b4b4b4"/>
<rect x="321.67" y="193.0" width="1.4" height="1.5" fill="#bdbdbd"/>
<rect x="321.77" y="196.0" width="1.2" height="1.5" fill="#c6c6c6"/>
<rect x="321.77" y="198.9" width="1.2" height="1.5" fill="#cbcbcb"/>
<rect x="321.67" y="202.6" width="1.4" height="1.5" fill="#b4b4b4"/>
<rect x="324.05" y="193.0" width="1.4" height="1.5" fill="#bdbdbd"/>
<rect x="324.15" y="196.0" width="1.2" height="1.5" fill="#c6c6c6"/>
<rect x="324.15" y="198.9" width="1.2" height="1.5" fill="#cbcbcb"/>
<rect x="324.05" y="202.6" width="1.4" height="1.5" fill="#b4b4b4"/>
<rect x="326.43" y="193.0" width="1.4" height="1.5" fill="#bdbdbd"/>
<rect x="326.53" y="196.0" width="1.2" height="1.5" fill="#c6c6c6"/>
<rect x="326.53" y="198.9" width="1.2" height="1.5" fill="#cbcbcb"/>
<rect x="326.43" y="202.6" width="1.4" height="1.5" fill="#b4b4b4"/>
<rect x="328.82" y="193.0" width="1.4" height="1.5" fill="#bdbdbd"/>
<rect x="328.92" y="196.0" width="1.2" height="1.5" fill="#c6c6c6"/>
<rect x="328.92" y="198.9" width="1.2" height="1.5" fill="#cbcbcb"/>
<rect x="328.82" y="202.6" width="1.4" height="1.5" fill="#b4b4b4"/>
<rect x="331.20" y="193.0" width="1.4" height="1.5" fill="#bdbdbd"/>
<rect x="331.30" y="196.0" width="1.2" height="1.5" fill="#c6c6c6"/>
<rect x="331.30" y="198.9" width="1.2" height="1.5" fill="#cbcbcb"/>
<rect x="331.20" y="202.6" width="1.4" height="1.5" fill="#b4b4b4"/>
<rect x="333.58" y="193.0" width="1.4" height="1.5" fill="#bdbdbd"/>
<rect x="333.68" y="196.0" width="1.2" height="1.5" fill="#c6c6c6"/>
<rect x="333.68" y="198.9" width="1.2" height="1.5" fill="#cbcbcb"/>
<rect x="333.58" y="202.6" width="1.4" height="1.5" fill="#b4b4b4"/>
<rect x="335.96" y="193.0" width="1.4" height="1.5" fill="#bdbdbd"/>
<rect x="336.06" y="196.0" width="1.2" height="1.5" fill="#c6c6c6"/>
<rect x="336.06" y="198.9" width="1.2" height="1.5" fill="#cbcbcb"/>
<rect x="335.96" y="202.6" width="1.4" height="1.5" fill="#b4b4b4"/>
<rect x="338.35" y="193.0" width="1.4" height="1.5" fill="#bdbdbd"/>
<rect x="338.45" y="196.0" width="1.2" height="1.5" fill="#c6c6c6"/>
<rect x="338.45" y="198.9" width="1.2" height="1.5" fill="#cbcbcb"/>
<rect x="338.35" y="202.6" width="1.4" height="1.5" fill="#b4b4b4"/>
<rect x="340.73" y="193.0" width="1.4" height="1.5" fill="#bdbdbd"/>
<rect x="340.83" y="196.0" width="1.2" height="1.5" fill="#c6c6c6"/>
<rect x="340.83" y="198.9" width="1.2" height="1.5" fill="#cbcbcb"/>
<rect x="340.73" y="202.6" width="1.4" height="1.5" fill="#b4b4b4"/>
<rect x="343.11" y="193.0" width="1.4" height="1.5" fill="#bdbdbd"/>
<rect x="343.21" y="196.0" width="1.2" height="1.5" fill="#c6c6c6"/>
<rect x="343.21" y="198.9" width="1.2" height="1.5" fill="#cbcbcb"/>
<rect x="343.11" y="202.6" width="1.4" height="1.5" fill="#b4b4b4"/>
<rect x="345.50" y="193.0" width="1.4" height="1.5" fill="#bdbdbd"/>
<rect x="345.60" y="196.0" width="1.2" height="1.5" fill="#c6c6c6"/>
<rect x="345.60" y="198.9" width="1.2" height="1.5" fill="#cbcbcb"/>
<rect x="345.50" y="202.6" width="1.4" height="1.5" fill="#b4b4b4"/>
<rect x="347.88" y="193.0" width="1.4" height="1.5" fill="#bdbdbd"/>
<rect x="347.98" y="196.0" width="1.2" height="1.5" fill="#c6c6c6"/>
<rect x="347.98" y="198.9" width="1.2" height="1.5" fill="#cbcbcb"/>
<rect x="347.88" y="202.6" width="1.4" height="1.5" fill="#b4b4b4"/>
<rect x="350.26" y="193.0" width="1.4" height="1.5" fill="#bdbdbd"/>
<rect x="350.36" y="196.0" width="1.2" height="1.5" fill="#c6c6c6"/>
<rect x="350.36" y="198.9" width="1.2" height="1.5" fill="#cbcbcb"/>
<rect x="350.26" y="202.6" width="1.4" height="1.5" fill="#b4b4b4"/>
<rect x="352.65" y="193.0" width="1.4" height="1.5" fill="#bdbdbd"/>
<rect x="352.75" y="196.0" width="1.2" height="1.5" fill="#c6c6c6"/>
<rect x="352.75" y="198.9" width="1.2" height="1.5" fill="#cbcbcb"/>
<rect x="352.65" y="202.6" width="1.4" height="1.5" fill="#b4b4b4"/>
<rect x="355.03" y="193.0" width="1.4" height="1.5" fill="#bdbdbd"/>
<rect x="355.13" y="196.0" width="1.2" height="1.5" fill="#c6c6c6"/>
<rect x="355.13" y="198.9" width="1.2" height="1.5" fill="#cbcbcb"/>
<rect x="355.03" y="202.6" width="1.4" height="1.5" fill="#b4b4b4"/>
<rect x="357.41" y="193.0" width="1.4" height="1.5" fill="#bdbdbd"/>
<rect x="357.51" y="196.0" width="1.2" height="1.5" fill="#c6c6c6"/>
<rect x="357.51" y="198.9" width="1.2" height="1.5" fill="#cbcbcb"/>
<rect x="357.41" y="202.6" width="1.4" height="1.5" fill="#b4b4b4"/>
<rect x="359.79" y="193.0" width="1.4" height="1.5" fill="#bdbdbd"/>
<rect x="359.89" y="196.0" width="1.2" height="1.5" fill="#c6c6c6"/>
<rect x="359.89" y="198.9" width="1.2" height="1.5" fill="#cbcbcb"/>
<rect x="359.79" y="202.6" width="1.4" height="1.5" fill="#b4b4b4"/>
<rect x="362.18" y="193.0" width="1.4" height="1.5" fill="#bdbdbd"/>
<rect x="362.28" y="196.0" width="1.2" height="1.5" fill="#c6c6c6"/>
<rect x="362.28" y="198.9" width="1.2" height="1.5" fill="#cbcbcb"/>
<rect x="362.18" y="202.6" width="1.4" height="1.5" fill="#b4b4b4"/>
<rect x="364.56" y="193.0" width="1.4" height="1.5" fill="#bdbdbd"/>
<rect x="364.66" y="196.0" width="1.2" height="1.5" fill="#c6c6c6"/>
<rect x="364.66" y="198.9" width="1.2" height="1.5" fill="#cbcbcb"/>
<rect x="364.56" y="202.6" width="1.4" height="1.5" fill="#b4b4b4"/>
<rect x="366.94" y="193.0" width="1.4" height="1.5" fill="#bdbdbd"/>
<rect x="367.04" y="196.0" width="1.2" height="1.5" fill="#c6c6c6"/>
<rect x="367.04" y="198.9" width="1.2" height="1.5" fill="#cbcbcb"/>
<rect x="366.94" y="202.6" width="1.4" height="1.5" fill="#b4b4b4"/>
<rect x="369.33" y="193.0" width="1.4" height="1.5" fill="#bdbdbd"/>
<rect x="369.43" y="196.0" width="1.2" height="1.5" fill="#c6c6c6"/>
<rect x="369.43" y="198.9" width="1.2" height="1.5" fill="#cbcbcb"/>
<rect x="369.33" y="202.6" width="1.4" height="1.5" fill="#b4b4b4"/>
<rect x="371.71" y="193.0" width="1.4" height="1.5" fill="#bdbdbd"/>
<rect x="371.81" y="196.0" width="1.2" height="1.5" fill="#c6c6c6"/>
<rect x="371.81" y="198.9" width="1.2" height="1.5" fill="#cbcbcb"/>
<rect x="371.71" y="202.6" width="1.4" height="1.5" fill="#b4b4b4"/>
<rect x="374.09" y="193.0" width="1.4" height="1.5" fill="#bdbdbd"/>
<rect x="374.19" y="196.0" width="1.2" height="1.5" fill="#c6c6c6"/>
<rect x="374.19" y="198.9" width="1.2" height="1.5" fill="#cbcbcb"/>
<rect x="374.09" y="202.6" width="1.4" height="1.5" fill="#b4b4b4"/>
<rect x="376.48" y="193.0" width="1.4" height="1.5" fill="#bdbdbd"/>
<rect x="376.58" y="196.0" width="1.2" height="1.5" fill="#c6c6c6"/>
<rect x="376.58" y="198.9" width="1.2" height="1.5" fill="#cbcbcb"/>
<rect x="376.48" y="202.6" width="1.4" height="1.5" fill="#b4b4b4"/>
<rect x="378.86" y="193.0" width="1.4" height="1.5" fill="#bdbdbd"/>
<rect x="378.96" y="196.0" width="1.2" height="1.5" fill="#c6c6c6"/>
<rect x="378.96" y="198.9" width="1.2" height="1.5" fill="#cbcbcb"/>
<rect x="378.86" y="202.6" width="1.4" height="1.5" fill="#b4b4b4"/>
<rect x="381.24" y="193.0" width="1.4" height="1.5" fill="#bdbdbd"/>
<rect x="381.34" y="196.0" width="1.2" height="1.5" fill="#c6c6c6"/>
<rect x="381.34" y="198.9" width="1.2" height="1.5" fill="#cbcbcb"/>
<rect x="381.24" y="202.6" width="1.4" height="1.5" fill="#b4b4b4"/>
<rect x="383.62" y="193.0" width="1.4" height="1.5" fill="#bdbdbd"/>
<rect x="383.72" y="196.0" width="1.2" height="1.5" fill="#c6c6c6"/>
<rect x="383.72" y="198.9" width="1.2" height="1.5" fill="#cbcbcb"/>
<rect x="383.62" y="202.6" width="1.4" height="1.5" fill="#b4b4b4"/>
<rect x="386.01" y="193.0" width="1.4" height="1.5" fill="#bdbdbd"/>
<rect x="386.11" y="196.0" width="1.2" height="1.5" fill="#c6c6c6"/>
<rect x="386.11" y="198.9" width="1.2" height="1.5" fill="#cbcbcb"/>
<rect x="386.01" y="202.6" width="1.4" height="1.5" fill="#b4b4b4"/>
<rect x="388.39" y="193.0" width="1.4" height="1.5" fill="#bdbdbd"/>
<rect x="388.49" y="196.0" width="1.2" height="1.5" fill="#c6c6c6"/>
<rect x="388.49" y="198.9" width="1.2" height="1.5" fill="#cbcbcb"/>
<rect x="388.39" y="202.6" width="1.4" height="1.5" fill="#b4b4b4"/>
<rect x="390.77" y="193.0" width="1.4" height="1.5" fill="#bdbdbd"/>
<rect x="390.87" y="196.0" width="1.2" height="1.5" fill="#c6c6c6"/>
<rect x="390.87" y="198.9" width="1.2" height="1.5" fill="#cbcbcb"/>
<rect x="390.77" y="202.6" width="1.4" height="1.5" fill="#b4b4b4"/>
<rect x="393.16" y="193.0" width="1.4" height="1.5" fill="#bdbdbd"/>
<rect x="393.26" y="196.0" width="1.2" height="1.5" fill="#c6c6c6"/>
<rect x="393.26" y="198.9" width="1.2" height="1.5" fill="#cbcbcb"/>
<rect x="393.16" y="202.6" width="1.4" height="1.5" fill="#b4b4b4"/>
<rect x="395.54" y="193.0" width="1.4" height="1.5" fill="#bdbdbd"/>
<rect x="395.64" y="196.0" width="1.2" height="1.5" fill="#c6c6c6"/>
<rect x="395.64" y="198.9" width="1.2" height="1.5" fill="#cbcbcb"/>
<rect x="395.54" y="202.6" width="1.4" height="1.5" fill="#b4b4b4"/>
<rect x="397.92" y="193.0" width="1.4" height="1.5" fill="#bdbdbd"/>
<rect x="398.02" y="196.0" width="1.2" height="1.5" fill="#c6c6c6"/>
<rect x="398.02" y="198.9" width="1.2" height="1.5" fill="#cbcbcb"/>
<rect x="397.92" y="202.6" width="1.4" height="1.5" fill="#b4b4b4"/>
<rect x="400.31" y="193.0" width="1.4" height="1.5" fill="#bdbdbd"/>
<rect x="400.41" y="196.0" width="1.2" height="1.5" fill="#c6c6c6"/>
<rect x="400.41" y="198.9" width="1.2" height="1.5" fill="#cbcbcb"/>
<rect x="400.31" y="202.6" width="1.4" height="1.5" fill="#b4b4b4"/>
<rect x="402.69" y="193.0" width="1.4" height="1.5" fill="#bdbdbd"/>
<rect x="402.79" y="196.0" width="1.2" height="1.5" fill="#c6c6c6"/>
<rect x="402.79" y="198.9" width="1.2" height="1.5" fill="#cbcbcb"/>
<rect x="402.69" y="202.6" width="1.4" height="1.5" fill="#b4b4b4"/>
<rect x="405.07" y="193.0" width="1.4" height="1.5" fill="#bdbdbd"/>
<rect x="405.17" y="196.0" width="1.2" height="1.5" fill="#c6c6c6"/>
<rect x="405.17" y="198.9" width="1.2" height="1.5" fill="#cbcbcb"/>
<rect x="405.07" y="202.6" width="1.4" height="1.5" fill="#b4b4b4"/>
<rect x="407.45" y="193.0" width="1.4" height="1.5" fill="#bdbdbd"/>
<rect x="407.55" y="196.0" width="1.2" height="1.5" fill="#c6c6c6"/>
<rect x="407.55" y="198.9" width="1.2" height="1.5" fill="#cbcbcb"/>
<rect x="407.45" y="202.6" width="1.4" height="1.5" fill="#b4b4b4"/>
<rect x="409.84" y="193.0" width="1.4" height="1.5" fill="#bdbdbd"/>
<rect x="409.94" y="196.0" width="1.2" height="1.5" fill="#c6c6c6"/>
<rect x="409.94" y="198.9" width="1.2" height="1.5" fill="#cbcbcb"/>
<rect x="409.84" y="202.6" width="1.4" height="1.5" fill="#b4b4b4"/>
<rect x="412.22" y="193.0" width="1.4" height="1.5" fill="#bdbdbd"/>
<rect x="412.32" y="196.0" width="1.2" height="1.5" fill="#c6c6c6"/>
<rect x="412.32" y="198.9" width="1.2" height="1.5" fill="#cbcbcb"/>
<rect x="412.22" y="202.6" width="1.4" height="1.5" fill="#b4b4b4"/>
<rect x="414.60" y="193.0" width="1.4" height="1.5" fill="#bdbdbd"/>
<rect x="414.70" y="196.0" width="1.2" height="1.5" fill="#c6c6c6"/>
<rect x="414.70" y="198.9" width="1.2" height="1.5" fill="#cbcbcb"/>
<rect x="414.60" y="202.6" width="1.4" height="1.5" fill="#b4b4b4"/>
<rect x="416.99" y="193.0" width="1.4" height="1.5" fill="#bdbdbd"/>
<rect x="417.09" y="196.0" width="1.2" height="1.5" fill="#c6c6c6"/>
<rect x="417.09" y="198.9" width="1.2" height="1.5" fill="#cbcbcb"/>
<rect x="416.99" y="202.6" width="1.4" height="1.5" fill="#b4b4b4"/>
<rect x="419.37" y="193.0" width="1.4" height="1.5" fill="#bdbdbd"/>
<rect x="419.47" y="196.0" width="1.2" height="1.5" fill="#c6c6c6"/>
<rect x="419.47" y="198.9" width="1.2" height="1.5" fill="#cbcbcb"/>
<rect x="419.37" y="202.6" width="1.4" height="1.5" fill="#b4b4b4"/>
<rect x="421.75" y="193.0" width="1.4" height="1.5" fill="#bdbdbd"/>
<rect x="421.85" y="196.0" width="1.2" height="1.5" fill="#c6c6c6"/>
<rect x="421.85" y="198.9" width="1.2" height="1.5" fill="#cbcbcb"/>
<rect x="421.75" y="202.6" width="1.4" height="1.5" fill="#b4b4b4"/>
<rect x="424.14" y="193.0" width="1.4" height="1.5" fill="#bdbdbd"/>
<rect x="424.24" y="196.0" width="1.2" height="1.5" fill="#c6c6c6"/>
<rect x="424.24" y="198.9" width="1.2" height="1.5" fill="#cbcbcb"/>
<rect x="424.14" y="202.6" width="1.4" height="1.5" fill="#b4b4b4"/>
<rect x="426.52" y="193.0" width="1.4" height="1.5" fill="#bdbdbd"/>
<rect x="426.62" y="196.0" width="1.2" height="1.5" fill="#c6c6c6"/>
<rect x="426.62" y="198.9" width="1.2" height="1.5" fill="#cbcbcb"/>
<rect x="426.52" y="202.6" width="1.4" height="1.5" fill="#b4b4b4"/>
<rect x="428.90" y="193.0" width="1.4" height="1.5" fill="#bdbdbd"/>
<rect x="429.00" y="196.0" width="1.2" height="1.5" fill="#c6c6c6"/>
<rect x="429.00" y="198.9" width="1.2" height="1.5" fill="#cbcbcb"/>
<rect x="428.90" y="202.6" width="1.4" height="1.5" fill="#b4b4b4"/>
<rect x="431.28" y="193.0" width="1.4" height="1.5" fill="#bdbdbd"/>
<rect x="431.38" y="196.0" width="1.2" height="1.5" fill="#c6c6c6"/>
<rect x="431.38" y="198.9" width="1.2" height="1.5" fill="#cbcbcb"/>
<rect x="431.28" y="202.6" width="1.4" height="1.5" fill="#b4b4b4"/>
<rect x="433.67" y="193.0" width="1.4" height="1.5" fill="#bdbdbd"/>
<rect x="433.77" y="196.0" width="1.2" height="1.5" fill="#c6c6c6"/>
<rect x="433.77" y="198.9" width="1.2" height="1.5" fill="#cbcbcb"/>
<rect x="433.67" y="202.6" width="1.4" height="1.5" fill="#b4b4b4"/>
<rect x="436.05" y="193.0" width="1.4" height="1.5" fill="#bdbdbd"/>
<rect x="436.15" y="196.0" width="1.2" height="1.5" fill="#c6c6c6"/>
<rect x="436.15" y="198.9" width="1.2" height="1.5" fill="#cbcbcb"/>
<rect x="436.05" y="202.6" width="1.4" height="1.5" fill="#b4b4b4"/>
<rect x="438.43" y="193.0" width="1.4" height="1.5" fill="#bdbdbd"/>
<rect x="438.53" y="196.0" width="1.2" height="1.5" fill="#c6c6c6"/>
<rect x="438.53" y="198.9" width="1.2" height="1.5" fill="#cbcbcb"/>
<rect x="438.43" y="202.6" width="1.4" height="1.5" fill="#b4b4b4"/>
<rect x="440.82" y="193.0" width="1.4" height="1.5" fill="#bdbdbd"/>
<rect x="440.92" y="196.0" width="1.2" height="1.5" fill="#c6c6c6"/>
<rect x="440.92" y="198.9" width="1.2" height="1.5" fill="#cbcbcb"/>
<rect x="440.82" y="202.6" width="1.4" height="1.5" fill="#b4b4b4"/>
<rect x="443.20" y="193.0" width="1.4" height="1.5" fill="#bdbdbd"/>
<rect x="443.30" y="196.0" width="1.2" height="1.5" fill="#c6c6c6"/>
<rect x="443.30" y="198.9" width="1.2" height="1.5" fill="#cbcbcb"/>
<rect x="443.20" y="202.6" width="1.4" height="1.5" fill="#b4b4b4"/>
<rect x="445.58" y="193.0" width="1.4" height="1.5" fill="#bdbdbd"/>
<rect x="445.68" y="196.0" width="1.2" height="1.5" fill="#c6c6c6"/>
<rect x="445.68" y="198.9" width="1.2" height="1.5" fill="#cbcbcb"/>
<rect x="445.58" y="202.6" width="1.4" height="1.5" fill="#b4b4b4"/>
<rect x="447.97" y="193.0" width="1.4" height="1.5" fill="#bdbdbd"/>
<rect x="448.07" y="196.0" width="1.2" height="1.5" fill="#c6c6c6"/>
<rect x="448.07" y="198.9" width="1.2" height="1.5" fill="#cbcbcb"/>
<rect x="447.97" y="202.6" width="1.4" height="1.5" fill="#b4b4b4"/>
<rect x="450.35" y="193.0" width="1.4" height="1.5" fill="#bdbdbd"/>
<rect x="450.45" y="196.0" width="1.2" height="1.5" fill="#c6c6c6"/>
<rect x="450.45" y="198.9" width="1.2" height="1.5" fill="#cbcbcb"/>
<rect x="450.35" y="202.6" width="1.4" height="1.5" fill="#b4b4b4"/>
<rect x="452.73" y="193.0" width="1.4" height="1.5" fill="#bdbdbd"/>
<rect x="452.83" y="196.0" width="1.2" height="1.5" fill="#c6c6c6"/>
<rect x="452.83" y="198.9" width="1.2" height="1.5" fill="#cbcbcb"/>
<rect x="452.73" y="202.6" width="1.4" height="1.5" fill="#b4b4b4"/>
<rect x="455.11" y="193.0" width="1.4" height="1.5" fill="#bdbdbd"/>
<rect x="455.21" y="196.0" width="1.2" height="1.5" fill="#c6c6c6"/>
<rect x="455.21" y="198.9" width="1.2" height="1.5" fill="#cbcbcb"/>
<rect x="455.11" y="202.6" width="1.4" height="1.5" fill="#b4b4b4"/>
<rect x="457.50" y="193.0" width="1.4" height="1.5" fill="#bdbdbd"/>
<rect x="457.60" y="196.0" width="1.2" height="1.5" fill="#c6c6c6"/>
<rect x="457.60" y="198.9" width="1.2" height="1.5" fill="#cbcbcb"/>
<rect x="457.50" y="202.6" width="1.4" height="1.5" fill="#b4b4b4"/>
<rect x="459.88" y="193.0" width="1.4" height="1.5" fill="#bdbdbd"/>
<rect x="459.98" y="196.0" width="1.2" height="1.5" fill="#c6c6c6"/>
<rect x="459.98" y="198.9" width="1.2" height="1.5" fill="#cbcbcb"/>
<rect x="459.88" y="202.6" width="1.4" height="1.5" fill="#b4b4b4"/>
<rect x="462.26" y="193.0" width="1.4" height="1.5" fill="#bdbdbd"/>
<rect x="462.36" y="196.0" width="1.2" height="1.5" fill="#c6c6c6"/>
<rect x="462.36" y="198.9" width="1.2" height="1.5" fill="#cbcbcb"/>
<rect x="462.26" y="202.6" width="1.4" height="1.5" fill="#b4b4b4"/>
<rect x="464.65" y="193.0" width="1.4" height="1.5" fill="#bdbdbd"/>
<rect x="464.75" y="196.0" width="1.2" height="1.5" fill="#c6c6c6"/>
<rect x="464.75" y="198.9" width="1.2" height="1.5" fill="#cbcbcb"/>
<rect x="464.65" y="202.6" width="1.4" height="1.5" fill="#b4b4b4"/>
<rect x="467.03" y="193.0" width="1.4" height="1.5" fill="#bdbdbd"/>
<rect x="467.13" y="196.0" width="1.2" height="1.5" fill="#c6c6c6"/>
<rect x="467.13" y="198.9" width="1.2" height="1.5" fill="#cbcbcb"/>
<rect x="467.03" y="202.6" width="1.4" height="1.5" fill="#b4b4b4"/>
<rect x="469.41" y="193.0" width="1.4" height="1.5" fill="#bdbdbd"/>
<rect x="469.51" y="196.0" width="1.2" height="1.5" fill="#c6c6c6"/>
<rect x="469.51" y="198.9" width="1.2" height="1.5" fill="#cbcbcb"/>
<rect x="469.41" y="202.6" width="1.4" height="1.5" fill="#b4b4b4"/>
<rect x="471.80" y="193.0" width="1.4" height="1.5" fill="#bdbdbd"/>
<rect x="471.90" y="196.0" width="1.2" height="1.5" fill="#c6c6c6"/>
<rect x="471.90" y="198.9" width="1.2" height="1.5" fill="#cbcbcb"/>
<rect x="471.80" y="202.6" width="1.4" height="1.5" fill="#b4b4b4"/>
<rect x="474.18" y="193.0" width="1.4" height="1.5" fill="#bdbdbd"/>
<rect x="474.28" y="196.0" width="1.2" height="1.5" fill="#c6c6c6"/>
<rect x="474.28" y="198.9" width="1.2" height="1.5" fill="#cbcbcb"/>
<rect x="474.18" y="202.6" width="1.4" height="1.5" fill="#b4b4b4"/>
<rect x="476.56" y="193.0" width="1.4" height="1.5" fill="#bdbdbd"/>
<rect x="476.66" y="196.0" width="1.2" height="1.5" fill="#c6c6c6"/>
<rect x="476.66" y="198.9" width="1.2" height="1.5" fill="#cbcbcb"/>
<rect x="476.56" y="202.6" width="1.4" height="1.5" fill="#b4b4b4"/>
<rect x="478.94" y="193.0" width="1.4" height="1.5" fill="#bdbdbd"/>
<rect x="479.04" y="196.0" width="1.2" height="1.5" fill="#c6c6c6"/>
<rect x="479.04" y="198.9" width="1.2" height="1.5" fill="#cbcbcb"/>
<rect x="478.94" y="202.6" width="1.4" height="1.5" fill="#b4b4b4"/>
<rect x="481.33" y="193.0" width="1.4" height="1.5" fill="#bdbdbd"/>
<rect x="481.43" y="196.0" width="1.2" height="1.5" fill="#c6c6c6"/>
<rect x="481.43" y="198.9" width="1.2" height="1.5" fill="#cbcbcb"/>
<rect x="481.33" y="202.6" width="1.4" height="1.5" fill="#b4b4b4"/>
<rect x="483.71" y="193.0" width="1.4" height="1.5" fill="#bdbdbd"/>
<rect x="483.81" y="196.0" width="1.2" height="1.5" fill="#c6c6c6"/>
<rect x="483.81" y="198.9" width="1.2" height="1.5" fill="#cbcbcb"/>
<rect x="483.71" y="202.6" width="1.4" height="1.5" fill="#b4b4b4"/>
<rect x="486.09" y="193.0" width="1.4" height="1.5" fill="#bdbdbd"/>
<rect x="486.19" y="196.0" width="1.2" height="1.5" fill="#c6c6c6"/>
<rect x="486.19" y="198.9" width="1.2" height="1.5" fill="#cbcbcb"/>
<rect x="486.09" y="202.6" width="1.4" height="1.5" fill="#b4b4b4"/>
<rect x="488.48" y="193.0" width="1.4" height="1.5" fill="#bdbdbd"/>
<rect x="488.58" y="196.0" width="1.2" height="1.5" fill="#c6c6c6"/>
<rect x="488.58" y="198.9" width="1.2" height="1.5" fill="#cbcbcb"/>
<rect x="488.48" y="202.6" width="1.4" height="1.5" fill="#b4b4b4"/>
<text x="429.4" y="60.5" font-size="5.6" fill="#222" text-anchor="middle" textLength="20.6" lengthAdjust="spacingAndGlyphs" stroke-width="0">MCF10A</text>
<text x="429.2" y="66.8" font-size="5.6" fill="#222" text-anchor="middle" textLength="47.6" lengthAdjust="spacingAndGlyphs" stroke-width="0">6-thioguanine 10nM</text>
<text x="429.2" y="72.8" font-size="5.6" fill="#999" text-anchor="middle" textLength="19" lengthAdjust="spacingAndGlyphs" stroke-width="0">clone #1</text>
<text x="429.4" y="107.3" font-size="5.6" fill="#222" text-anchor="middle" textLength="20.6" lengthAdjust="spacingAndGlyphs" stroke-width="0">MCF10A</text>
<text x="429.2" y="113.6" font-size="5.6" fill="#222" text-anchor="middle" textLength="47.6" lengthAdjust="spacingAndGlyphs" stroke-width="0">6-thioguanine 10nM</text>
<text x="429.2" y="119.6" font-size="5.6" fill="#999" text-anchor="middle" textLength="19" lengthAdjust="spacingAndGlyphs" stroke-width="0">clone #2</text>
<text x="428.7" y="166.9" font-size="6.4" fill="#222" text-anchor="middle" textLength="41.8" lengthAdjust="spacingAndGlyphs" stroke-width="0">Novel signature B</text>
<text x="496.4" y="64.9" font-size="5.6" fill="#222" text-anchor="middle" textLength="15" lengthAdjust="spacingAndGlyphs" stroke-width="0">cosine</text>
<text x="496.0" y="78.4" font-size="5.6" fill="#222" text-anchor="middle" textLength="13.6" lengthAdjust="spacingAndGlyphs" stroke-width="0">0.923</text>
<text x="496.0" y="115.2" font-size="5.6" fill="#222" text-anchor="middle" textLength="13.6" lengthAdjust="spacingAndGlyphs" stroke-width="0">0.921</text>
<polyline points="496.9,69.2 513.2,69.2 513.2,164.7 496.6,164.7" fill="none" stroke="#333" stroke-width="1.0"/>
<polyline points="496.9,107.5 509.3,107.5 509.3,161.5 496.6,161.5" fill="none" stroke="#333" stroke-width="1.0"/>
<text transform="translate(242.3,94) rotate(-90)" font-size="8.4" fill="#222" text-anchor="middle" textLength="77" lengthAdjust="spacingAndGlyphs" stroke="#222" stroke-width="0.15"># SNVs minus background</text>
<text transform="translate(237.4,169.1) rotate(-90)" font-size="8.3" fill="#222" text-anchor="middle" textLength="34" lengthAdjust="spacingAndGlyphs" stroke="#222" stroke-width="0.15">prop. SNVs</text>
<text x="222.2" y="246.2" font-size="10.8" fill="#000" text-anchor="start" font-weight="bold">D</text>
<rect x="265.00" y="290.50" width="6.40" height="31.00" fill="#8878ba" />
<rect x="265.00" y="278.80" width="6.40" height="11.70" fill="#c3c1c7" />
<rect x="265.00" y="275.80" width="6.40" height="3.00" fill="#e1e1e3" />
<rect x="273.00" y="278.20" width="6.80" height="43.30" fill="#8878ba" />
<rect x="273.00" y="276.80" width="6.80" height="1.40" fill="#c3c1c7" />
<rect x="273.00" y="275.80" width="6.80" height="1.00" fill="#e1e1e3" />
<rect x="284.20" y="276.80" width="6.70" height="44.70" fill="#8878ba" />
<rect x="284.20" y="275.80" width="6.70" height="1.00" fill="#e1e1e3" />
<rect x="292.00" y="275.80" width="6.80" height="45.70" fill="#8878ba" />
<rect x="308.70" y="294.70" width="6.80" height="26.80" fill="#5fa6dd" />
<rect x="308.70" y="292.90" width="6.80" height="1.80" fill="#d2c6c4" />
<rect x="308.70" y="275.80" width="6.80" height="17.10" fill="#e1e1e3" />
<rect x="316.60" y="294.70" width="6.70" height="26.80" fill="#5fa6dd" />
<rect x="316.60" y="292.00" width="6.70" height="2.70" fill="#c3c1c7" />
<rect x="316.60" y="275.80" width="6.70" height="16.20" fill="#e1e1e3" />
<rect x="324.60" y="290.80" width="6.40" height="30.70" fill="#5fa6dd" />
<rect x="324.60" y="284.70" width="6.40" height="6.10" fill="#8878ba" />
<rect x="324.60" y="283.40" width="6.40" height="1.30" fill="#c3c1c7" />
<rect x="324.60" y="275.80" width="6.40" height="7.60" fill="#e1e1e3" />
<rect x="332.30" y="278.70" width="6.70" height="42.80" fill="#5fa6dd" />
<rect x="332.30" y="277.70" width="6.70" height="1.00" fill="#d2c6c4" />
<rect x="332.30" y="275.80" width="6.70" height="1.90" fill="#e1e1e3" />
<rect x="343.30" y="298.30" width="6.80" height="23.20" fill="#5fa6dd" />
<rect x="343.30" y="287.50" width="6.80" height="10.80" fill="#c3c1c7" />
<rect x="343.30" y="275.80" width="6.80" height="11.70" fill="#e1e1e3" />
<rect x="351.30" y="292.00" width="6.70" height="29.50" fill="#5fa6dd" />
<rect x="351.30" y="291.30" width="6.70" height="0.70" fill="#c3c1c7" />
<rect x="351.30" y="275.80" width="6.70" height="15.50" fill="#e1e1e3" />
<rect x="359.30" y="285.80" width="6.70" height="35.70" fill="#5fa6dd" />
<rect x="359.30" y="285.00" width="6.70" height="0.80" fill="#d2c6c4" />
<rect x="359.30" y="275.80" width="6.70" height="9.20" fill="#e1e1e3" />
<rect x="370.30" y="288.30" width="6.70" height="33.20" fill="#5fa6dd" />
<rect x="370.30" y="287.70" width="6.70" height="0.60" fill="#c3c1c7" />
<rect x="370.30" y="275.80" width="6.70" height="11.90" fill="#e1e1e3" />
<rect x="378.30" y="286.80" width="6.70" height="34.70" fill="#5fa6dd" />
<rect x="378.30" y="276.80" width="6.70" height="10.00" fill="#8878ba" />
<rect x="378.30" y="275.80" width="6.70" height="1.00" fill="#e1e1e3" />
<rect x="386.30" y="285.80" width="6.70" height="35.70" fill="#5fa6dd" />
<rect x="386.30" y="285.00" width="6.70" height="0.80" fill="#d2c6c4" />
<rect x="386.30" y="275.80" width="6.70" height="9.20" fill="#e1e1e3" />
<rect x="394.10" y="278.30" width="6.70" height="43.20" fill="#5fa6dd" />
<rect x="394.10" y="275.80" width="6.70" height="2.50" fill="#e1e1e3" />
<rect x="402.00" y="275.80" width="6.80" height="45.70" fill="#5fa6dd" />
<rect x="413.00" y="285.00" width="6.90" height="36.50" fill="#5fa6dd" />
<rect x="413.00" y="284.50" width="6.90" height="0.50" fill="#c3c1c7" />
<rect x="413.00" y="275.80" width="6.90" height="8.70" fill="#e1e1e3" />
<rect x="421.20" y="278.30" width="6.80" height="43.20" fill="#5fa6dd" />
<rect x="421.20" y="275.80" width="6.80" height="2.50" fill="#e1e1e3" />
<rect x="429.30" y="275.80" width="6.70" height="45.70" fill="#5fa6dd" />
<rect x="444.50" y="307.50" width="6.80" height="14.00" fill="#5fa6dd" />
<rect x="444.50" y="298.30" width="6.80" height="9.20" fill="#8878ba" />
<rect x="444.50" y="278.00" width="6.80" height="20.30" fill="#c3c1c7" />
<rect x="444.50" y="275.80" width="6.80" height="2.20" fill="#e1e1e3" />
<rect x="452.50" y="299.30" width="6.80" height="22.20" fill="#5fa6dd" />
<rect x="452.50" y="297.80" width="6.80" height="1.50" fill="#8878ba" />
<rect x="452.50" y="275.80" width="6.80" height="22.00" fill="#e1e1e3" />
<rect x="460.50" y="305.00" width="6.80" height="16.50" fill="#5fa6dd" />
<rect x="460.50" y="296.80" width="6.80" height="8.20" fill="#8878ba" />
<rect x="460.50" y="283.00" width="6.80" height="13.80" fill="#c3c1c7" />
<rect x="460.50" y="275.80" width="6.80" height="7.20" fill="#e1e1e3" />
<line x1="260.2" y1="273.8" x2="260.2" y2="322.2" stroke="#111" stroke-width="1.0" />
<line x1="258.3" y1="321.5" x2="260.2" y2="321.5" stroke="#111" stroke-width="0.9" />
<text x="255.6" y="323.8" font-size="6.6" fill="#222" text-anchor="end" stroke="#222" stroke-width="0.15">0</text>
<line x1="258.3" y1="312.36" x2="260.2" y2="312.36" stroke="#111" stroke-width="0.9" />
<text x="255.6" y="314.66" font-size="6.6" fill="#222" text-anchor="end" stroke="#222" stroke-width="0.15">20</text>
<line x1="258.3" y1="303.22" x2="260.2" y2="303.22" stroke="#111" stroke-width="0.9" />
<text x="255.6" y="305.52000000000004" font-size="6.6" fill="#222" text-anchor="end" stroke="#222" stroke-width="0.15">40</text>
<line x1="258.3" y1="294.08" x2="260.2" y2="294.08" stroke="#111" stroke-width="0.9" />
<text x="255.6" y="296.38" font-size="6.6" fill="#222" text-anchor="end" stroke="#222" stroke-width="0.15">60</text>
<line x1="258.3" y1="284.94" x2="260.2" y2="284.94" stroke="#111" stroke-width="0.9" />
<text x="255.6" y="287.24" font-size="6.6" fill="#222" text-anchor="end" stroke="#222" stroke-width="0.15">80</text>
<line x1="258.3" y1="275.8" x2="260.2" y2="275.8" stroke="#111" stroke-width="0.9" />
<text x="255.6" y="278.1" font-size="6.6" fill="#222" text-anchor="end" stroke="#222" stroke-width="0.15">100</text>
<line x1="259.8" y1="321.8" x2="467.6" y2="321.8" stroke="#222" stroke-width="1.4" />
<text transform="translate(228.1,296.9) rotate(-90)" font-size="8.8" fill="#222" text-anchor="middle" textLength="56.6" lengthAdjust="spacingAndGlyphs" stroke="#222" stroke-width="0.15">Probability induced</text>
<text transform="translate(236.5,296.9) rotate(-90)" font-size="7.8" fill="#222" text-anchor="middle" textLength="47.2" lengthAdjust="spacingAndGlyphs" stroke="#222" stroke-width="0.15">by signature (%)</text>
<text transform="translate(262.5,255.1) rotate(-90)" font-size="6.0" fill="#222" text-anchor="middle" textLength="20.3" lengthAdjust="spacingAndGlyphs" stroke-width="0">patient</text>
<rect x="265.30" y="249.10" width="5.80" height="1.20" fill="#b4b4b8" />
<rect x="273.30" y="251.50" width="6.20" height="1.20" fill="#b4b4b8" />
<line x1="287.2" y1="254.4" x2="456.3" y2="254.4" stroke="#bdbdc0" stroke-width="0.55" />
<rect x="284.50" y="253.80" width="6.10" height="1.20" fill="#b4b4b8" />
<rect x="378.60" y="253.80" width="6.10" height="1.20" fill="#b4b4b8" />
<rect x="452.80" y="253.80" width="6.20" height="1.20" fill="#b4b4b8" />
<rect x="292.30" y="256.10" width="6.20" height="1.20" fill="#b4b4b8" />
<line x1="311.7" y1="259.0" x2="363.0" y2="259.0" stroke="#bdbdc0" stroke-width="0.55" />
<rect x="309.00" y="258.40" width="6.20" height="1.20" fill="#b4b4b8" />
<rect x="359.60" y="258.40" width="6.10" height="1.20" fill="#b4b4b8" />
<line x1="319.6" y1="261.3" x2="390.0" y2="261.3" stroke="#bdbdc0" stroke-width="0.55" />
<rect x="316.90" y="260.70" width="6.10" height="1.20" fill="#b4b4b8" />
<rect x="386.60" y="260.70" width="6.10" height="1.20" fill="#b4b4b8" />
<line x1="327.6" y1="263.8" x2="464.3" y2="263.8" stroke="#bdbdc0" stroke-width="0.55" />
<rect x="324.90" y="263.20" width="5.80" height="1.20" fill="#b4b4b8" />
<rect x="444.80" y="263.20" width="6.20" height="1.20" fill="#b4b4b8" />
<rect x="460.80" y="263.20" width="6.20" height="1.20" fill="#b4b4b8" />
<line x1="335.3" y1="266.1" x2="433.0" y2="266.1" stroke="#bdbdc0" stroke-width="0.55" />
<rect x="332.60" y="265.50" width="6.10" height="1.20" fill="#b4b4b8" />
<rect x="351.60" y="265.50" width="6.10" height="1.20" fill="#b4b4b8" />
<rect x="394.40" y="265.50" width="6.10" height="1.20" fill="#b4b4b8" />
<rect x="429.60" y="265.50" width="6.10" height="1.20" fill="#b4b4b8" />
<line x1="346.3" y1="268.5" x2="405.8" y2="268.5" stroke="#bdbdc0" stroke-width="0.55" />
<rect x="343.60" y="267.90" width="6.20" height="1.20" fill="#b4b4b8" />
<rect x="370.60" y="267.90" width="6.10" height="1.20" fill="#b4b4b8" />
<rect x="402.30" y="267.90" width="6.20" height="1.20" fill="#b4b4b8" />
<rect x="413.30" y="270.20" width="6.30" height="1.20" fill="#b4b4b8" />
<rect x="421.50" y="272.50" width="6.20" height="1.20" fill="#b4b4b8" />
<text transform="translate(270.8,326.8) rotate(-60)" font-size="6.6" fill="#8c8c8c" text-anchor="end" stroke="#8c8c8c" stroke-width="0.15"><tspan fill="#111" stroke="#111">TP53</tspan> G245R</text>
<text transform="translate(279.0,326.8) rotate(-60)" font-size="6.6" fill="#8c8c8c" text-anchor="end" stroke="#8c8c8c" stroke-width="0.15"><tspan fill="#111" stroke="#111">NT5C2</tspan> H352D</text>
<text transform="translate(290.15,326.8) rotate(-60)" font-size="6.6" fill="#8c8c8c" text-anchor="end" stroke="#8c8c8c" stroke-width="0.15">S103R</text>
<text transform="translate(298.0,326.8) rotate(-60)" font-size="6.6" fill="#8c8c8c" text-anchor="end" stroke="#8c8c8c" stroke-width="0.15">S103R</text>
<text transform="translate(314.7,326.8) rotate(-60)" font-size="6.6" fill="#8c8c8c" text-anchor="end" stroke="#8c8c8c" stroke-width="0.15">R367Q</text>
<text transform="translate(322.55,326.8) rotate(-60)" font-size="6.6" fill="#8c8c8c" text-anchor="end" stroke="#8c8c8c" stroke-width="0.15">R367Q</text>
<text transform="translate(330.4,326.8) rotate(-60)" font-size="6.6" fill="#8c8c8c" text-anchor="end" stroke="#8c8c8c" stroke-width="0.15">R367Q</text>
<text transform="translate(338.25,326.8) rotate(-60)" font-size="6.6" fill="#8c8c8c" text-anchor="end" stroke="#8c8c8c" stroke-width="0.15">R363L</text>
<text transform="translate(349.3,326.8) rotate(-60)" font-size="6.6" fill="#8c8c8c" text-anchor="end" stroke="#8c8c8c" stroke-width="0.15">E285*</text>
<text transform="translate(357.25,326.8) rotate(-60)" font-size="6.6" fill="#8c8c8c" text-anchor="end" stroke="#8c8c8c" stroke-width="0.15">R477C</text>
<text transform="translate(365.25,326.8) rotate(-60)" font-size="6.6" fill="#8c8c8c" text-anchor="end" stroke="#8c8c8c" stroke-width="0.15">R714Q</text>
<text transform="translate(376.25,326.8) rotate(-60)" font-size="6.6" fill="#8c8c8c" text-anchor="end" stroke="#8c8c8c" stroke-width="0.15">R248Q</text>
<text transform="translate(384.25,326.8) rotate(-60)" font-size="6.6" fill="#8c8c8c" text-anchor="end" stroke="#8c8c8c" stroke-width="0.15">S261 sp</text>
<text transform="translate(392.25,326.8) rotate(-60)" font-size="6.6" fill="#8c8c8c" text-anchor="end" stroke="#8c8c8c" stroke-width="0.15">R248Q</text>
<text transform="translate(400.05,326.8) rotate(-60)" font-size="6.6" fill="#8c8c8c" text-anchor="end" stroke="#8c8c8c" stroke-width="0.15">T125T</text>
<text transform="translate(408.0,326.8) rotate(-60)" font-size="6.6" fill="#8c8c8c" text-anchor="end" stroke="#8c8c8c" stroke-width="0.15">R196G</text>
<text transform="translate(419.05,326.8) rotate(-60)" font-size="6.6" fill="#8c8c8c" text-anchor="end" stroke="#8c8c8c" stroke-width="0.15"><tspan fill="#111" stroke="#111">SUZ12</tspan> R423*</text>
<text transform="translate(427.2,326.8) rotate(-60)" font-size="6.6" fill="#8c8c8c" text-anchor="end" stroke="#8c8c8c" stroke-width="0.15"><tspan fill="#111" stroke="#111">KRAS</tspan> F156L</text>
<text transform="translate(435.25,326.8) rotate(-60)" font-size="6.6" fill="#8c8c8c" text-anchor="end" stroke="#8c8c8c" stroke-width="0.15"><tspan fill="#111" stroke="#111">EZH2</tspan> R608P</text>
<text transform="translate(450.5,326.8) rotate(-60)" font-size="6.6" fill="#8c8c8c" text-anchor="end" stroke="#8c8c8c" stroke-width="0.15"><tspan fill="#111" stroke="#111">FPGS</tspan> K167T</text>
<text transform="translate(458.5,326.8) rotate(-60)" font-size="6.6" fill="#8c8c8c" text-anchor="end" stroke="#8c8c8c" stroke-width="0.15"><tspan fill="#111" stroke="#111">PRPS1</tspan> R177S</text>
<text transform="translate(466.5,326.8) rotate(-60)" font-size="6.6" fill="#8c8c8c" text-anchor="end" stroke="#8c8c8c" stroke-width="0.15"><tspan fill="#111" stroke="#111">NT5C2</tspan> G355E</text>
<line x1="273.8" y1="351.2" x2="287.7" y2="351.2" stroke="#111" stroke-width="1.0" />
<text x="280.8" y="359.6" font-size="6.6" fill="#222" text-anchor="middle" textLength="17.7" lengthAdjust="spacingAndGlyphs" stroke="#222" stroke-width="0.15">PRPS1</text>
<line x1="299.8" y1="351.2" x2="326.7" y2="351.2" stroke="#111" stroke-width="1.0" />
<text x="313.4" y="359.6" font-size="6.6" fill="#222" text-anchor="middle" textLength="20.7" lengthAdjust="spacingAndGlyphs" stroke="#222" stroke-width="0.15">NT5C2</text>
<line x1="333.1" y1="351.2" x2="354.6" y2="351.2" stroke="#111" stroke-width="1.0" />
<text x="344.0" y="359.6" font-size="6.6" fill="#222" text-anchor="middle" textLength="20.4" lengthAdjust="spacingAndGlyphs" stroke="#222" stroke-width="0.15">NR3C1</text>
<line x1="361.0" y1="351.2" x2="395.6" y2="351.2" stroke="#111" stroke-width="1.0" />
<text x="378.2" y="359.6" font-size="6.6" fill="#222" text-anchor="middle" textLength="14.4" lengthAdjust="spacingAndGlyphs" stroke="#222" stroke-width="0.15">TP53</text>
<text x="474.1" y="278.0" font-size="5.8" fill="#333" text-anchor="start" textLength="23.6" lengthAdjust="spacingAndGlyphs" stroke="#333" stroke-width="0.15">Novel sig.</text>
<rect x="474.40" y="281.00" width="5.90" height="5.20" fill="#8878ba" />
<text x="483.5" y="285.8" font-size="5.8" fill="#333" text-anchor="start" stroke="#333" stroke-width="0.15">A</text>
<rect x="474.40" y="288.90" width="5.90" height="5.30" fill="#5fa6dd" />
<text x="483.5" y="293.7" font-size="5.8" fill="#333" text-anchor="start" stroke="#333" stroke-width="0.15">B</text>
<text x="474.1" y="306.0" font-size="5.8" fill="#333" text-anchor="start" textLength="21" lengthAdjust="spacingAndGlyphs" stroke="#333" stroke-width="0.15">COSMIC</text>
<rect x="474.40" y="309.30" width="5.90" height="5.10" fill="#e1e1e3" />
<text x="483.5" y="314.0" font-size="5.8" fill="#333" text-anchor="start" stroke="#333" stroke-width="0.15">1</text>
<rect x="474.40" y="317.00" width="5.90" height="5.00" fill="#c3c1c7" />
<text x="483.5" y="321.7" font-size="5.8" fill="#333" text-anchor="start" stroke="#333" stroke-width="0.15">5</text>
</svg></body></html>
